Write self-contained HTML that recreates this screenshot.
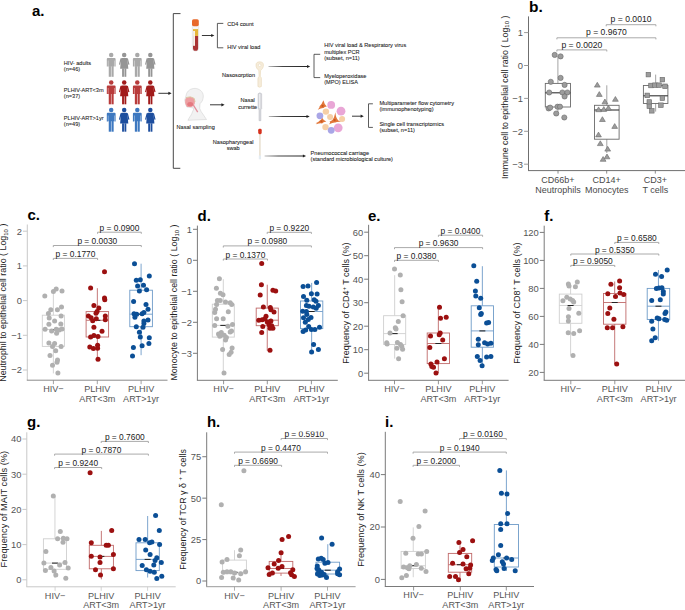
<!DOCTYPE html><html><head><meta charset="utf-8"><style>html,body{margin:0;padding:0;background:#fff;}svg{display:block;} .pa text{stroke:#1a1a1a;stroke-width:0.08px;}</style></head><body>
<svg width="685" height="610" viewBox="0 0 685 610" font-family='"Liberation Sans", sans-serif'>
<defs><linearGradient id="ag" x1="0" x2="1" y1="0" y2="0"><stop offset="0" stop-color="#bbb"/><stop offset="0.35" stop-color="#444"/><stop offset="1" stop-color="#222"/></linearGradient></defs>
<rect width="685" height="610" fill="#fff"/>
<g class="pa">
<text x="31.90" y="15.90" font-size="15" text-anchor="start" fill="#000" font-weight="bold" style="stroke:none">a.</text>
<text x="63.80" y="64.90" font-size="5.6" text-anchor="start" fill="#222" font-weight="normal" >HIV- adults</text>
<text x="63.80" y="70.50" font-size="5.6" text-anchor="start" fill="#222" font-weight="normal" >(n=46)</text>
<text x="63.80" y="91.60" font-size="5.6" text-anchor="start" fill="#222" font-weight="normal" >PLHIV-ART&lt;3m</text>
<text x="63.80" y="97.90" font-size="5.6" text-anchor="start" fill="#222" font-weight="normal" >(n=37)</text>
<text x="63.80" y="119.60" font-size="5.6" text-anchor="start" fill="#222" font-weight="normal" >PLHIV-ART&gt;1yr</text>
<text x="63.80" y="126.30" font-size="5.6" text-anchor="start" fill="#222" font-weight="normal" >(n=49)</text>
<circle cx="111.20" cy="55.10" r="2.25" fill="#a9a9a9"/>
<path d="M106.80,66.50 V58.90 Q106.80,57.90 107.80,57.90 H114.60 Q115.60,57.90 115.60,58.90 V66.50 H114.50 V60.50 H114.15 V66.40 H108.25 V60.50 H107.90 V66.50 Z" fill="#a9a9a9"/>
<rect x="108.75" y="66.10" width="2.2" height="10.7" fill="#a9a9a9"/>
<rect x="111.45" y="66.10" width="2.2" height="10.7" fill="#a9a9a9"/>
<circle cx="124.20" cy="55.10" r="2.25" fill="#959595"/>
<path d="M121.90,57.90 H126.50 Q127.30,57.90 127.40,58.90 L128.30,68.70 H120.10 L121.00,58.90 Q121.10,57.90 121.90,57.90 Z" fill="#959595"/>
<path d="M121.10,58.50 L119.50,64.70 M127.30,58.50 L128.90,64.70" stroke="#959595" stroke-width="1.2" fill="none"/>
<rect x="122.10" y="68.40" width="1.85" height="8.4" fill="#959595"/>
<rect x="124.45" y="68.40" width="1.85" height="8.4" fill="#959595"/>
<circle cx="137.30" cy="55.10" r="2.25" fill="#a9a9a9"/>
<path d="M132.90,66.50 V58.90 Q132.90,57.90 133.90,57.90 H140.70 Q141.70,57.90 141.70,58.90 V66.50 H140.60 V60.50 H140.25 V66.40 H134.35 V60.50 H134.00 V66.50 Z" fill="#a9a9a9"/>
<rect x="134.85" y="66.10" width="2.2" height="10.7" fill="#a9a9a9"/>
<rect x="137.55" y="66.10" width="2.2" height="10.7" fill="#a9a9a9"/>
<circle cx="150.30" cy="55.10" r="2.25" fill="#959595"/>
<path d="M148.00,57.90 H152.60 Q153.40,57.90 153.50,58.90 L154.40,68.70 H146.20 L147.10,58.90 Q147.20,57.90 148.00,57.90 Z" fill="#959595"/>
<path d="M147.20,58.50 L145.60,64.70 M153.40,58.50 L155.00,64.70" stroke="#959595" stroke-width="1.2" fill="none"/>
<rect x="148.20" y="68.40" width="1.85" height="8.4" fill="#959595"/>
<rect x="150.55" y="68.40" width="1.85" height="8.4" fill="#959595"/>
<circle cx="111.20" cy="82.60" r="2.25" fill="#b83b3b"/>
<path d="M106.80,94.00 V86.40 Q106.80,85.40 107.80,85.40 H114.60 Q115.60,85.40 115.60,86.40 V94.00 H114.50 V88.00 H114.15 V93.90 H108.25 V88.00 H107.90 V94.00 Z" fill="#b83b3b"/>
<rect x="108.75" y="93.60" width="2.2" height="10.7" fill="#b83b3b"/>
<rect x="111.45" y="93.60" width="2.2" height="10.7" fill="#b83b3b"/>
<circle cx="124.20" cy="82.60" r="2.25" fill="#a11b1b"/>
<path d="M121.90,85.40 H126.50 Q127.30,85.40 127.40,86.40 L128.30,96.20 H120.10 L121.00,86.40 Q121.10,85.40 121.90,85.40 Z" fill="#a11b1b"/>
<path d="M121.10,86.00 L119.50,92.20 M127.30,86.00 L128.90,92.20" stroke="#a11b1b" stroke-width="1.2" fill="none"/>
<rect x="122.10" y="95.90" width="1.85" height="8.4" fill="#a11b1b"/>
<rect x="124.45" y="95.90" width="1.85" height="8.4" fill="#a11b1b"/>
<circle cx="137.30" cy="82.60" r="2.25" fill="#b83b3b"/>
<path d="M132.90,94.00 V86.40 Q132.90,85.40 133.90,85.40 H140.70 Q141.70,85.40 141.70,86.40 V94.00 H140.60 V88.00 H140.25 V93.90 H134.35 V88.00 H134.00 V94.00 Z" fill="#b83b3b"/>
<rect x="134.85" y="93.60" width="2.2" height="10.7" fill="#b83b3b"/>
<rect x="137.55" y="93.60" width="2.2" height="10.7" fill="#b83b3b"/>
<circle cx="150.30" cy="82.60" r="2.25" fill="#a11b1b"/>
<path d="M148.00,85.40 H152.60 Q153.40,85.40 153.50,86.40 L154.40,96.20 H146.20 L147.10,86.40 Q147.20,85.40 148.00,85.40 Z" fill="#a11b1b"/>
<path d="M147.20,86.00 L145.60,92.20 M153.40,86.00 L155.00,92.20" stroke="#a11b1b" stroke-width="1.2" fill="none"/>
<rect x="148.20" y="95.90" width="1.85" height="8.4" fill="#a11b1b"/>
<rect x="150.55" y="95.90" width="1.85" height="8.4" fill="#a11b1b"/>
<circle cx="111.20" cy="110.00" r="2.25" fill="#3d78c0"/>
<path d="M106.80,121.40 V113.80 Q106.80,112.80 107.80,112.80 H114.60 Q115.60,112.80 115.60,113.80 V121.40 H114.50 V115.40 H114.15 V121.30 H108.25 V115.40 H107.90 V121.40 Z" fill="#3d78c0"/>
<rect x="108.75" y="121.00" width="2.2" height="10.7" fill="#3d78c0"/>
<rect x="111.45" y="121.00" width="2.2" height="10.7" fill="#3d78c0"/>
<circle cx="124.20" cy="110.00" r="2.25" fill="#1d4e9e"/>
<path d="M121.90,112.80 H126.50 Q127.30,112.80 127.40,113.80 L128.30,123.60 H120.10 L121.00,113.80 Q121.10,112.80 121.90,112.80 Z" fill="#1d4e9e"/>
<path d="M121.10,113.40 L119.50,119.60 M127.30,113.40 L128.90,119.60" stroke="#1d4e9e" stroke-width="1.2" fill="none"/>
<rect x="122.10" y="123.30" width="1.85" height="8.4" fill="#1d4e9e"/>
<rect x="124.45" y="123.30" width="1.85" height="8.4" fill="#1d4e9e"/>
<circle cx="137.30" cy="110.00" r="2.25" fill="#3d78c0"/>
<path d="M132.90,121.40 V113.80 Q132.90,112.80 133.90,112.80 H140.70 Q141.70,112.80 141.70,113.80 V121.40 H140.60 V115.40 H140.25 V121.30 H134.35 V115.40 H134.00 V121.40 Z" fill="#3d78c0"/>
<rect x="134.85" y="121.00" width="2.2" height="10.7" fill="#3d78c0"/>
<rect x="137.55" y="121.00" width="2.2" height="10.7" fill="#3d78c0"/>
<circle cx="150.30" cy="110.00" r="2.25" fill="#1d4e9e"/>
<path d="M148.00,112.80 H152.60 Q153.40,112.80 153.50,113.80 L154.40,123.60 H146.20 L147.10,113.80 Q147.20,112.80 148.00,112.80 Z" fill="#1d4e9e"/>
<path d="M147.20,113.40 L145.60,119.60 M153.40,113.40 L155.00,119.60" stroke="#1d4e9e" stroke-width="1.2" fill="none"/>
<rect x="148.20" y="123.30" width="1.85" height="8.4" fill="#1d4e9e"/>
<rect x="150.55" y="123.30" width="1.85" height="8.4" fill="#1d4e9e"/>
<line x1="158.40" y1="93.30" x2="169.60" y2="93.30" stroke="#222" stroke-width="0.9"/>
<path d="M171.60,93.30 L168.40,91.70 L168.40,94.90 Z" fill="#222"/>
<path d="M180.5,13.6 H173.3 V168.3 H180.3" fill="none" stroke="#333" stroke-width="0.9"/>
<rect x="192.3" y="23.5" width="6.4" height="27.6" rx="3" fill="#f6f6f6" stroke="#d0d0d0" stroke-width="0.4"/>
<rect x="193" y="29.1" width="5.1" height="7.2" fill="#e6b63a"/>
<path d="M193,36 H198.1 V48.2 A2.55,2.55 0 0 1 193,48.2 Z" fill="#a93434"/>
<rect x="193.1" y="31" width="1.9" height="14.8" fill="#f5f2ea"/>
<rect x="192" y="19.3" width="6.8" height="6.9" rx="1.6" fill="#e8682a"/>
<line x1="201.90" y1="35.50" x2="212.40" y2="35.50" stroke="#222" stroke-width="0.9"/>
<path d="M214.40,35.50 L211.20,33.90 L211.20,37.10 Z" fill="#222"/>
<path d="M223.3,23.4 H217.4 V47.8 H223.3" fill="none" stroke="#333" stroke-width="0.8"/>
<text x="227.20" y="26.10" font-size="5.6" text-anchor="start" fill="#222" font-weight="normal" >CD4 count</text>
<text x="227.20" y="49.20" font-size="5.6" text-anchor="start" fill="#222" font-weight="normal" >HIV viral load</text>
<path d="M195,88.4 C199,88.4 203.3,91.5 203.3,96 C203.3,99 202.5,101.5 200,103.7 L199.7,108.4 C200.5,111 202,113 203.5,115 L206.5,119.5 L187.9,120.3 C189.5,117 191,115.5 191.7,113.8 L193.5,109.5 L193.2,107.9 L186.7,107 L185.5,103.7 L184.7,100.2 L186.4,94.3 C187.2,91 190.5,88.4 195,88.4 Z" fill="#f2f2f2" stroke="#c8c8c8" stroke-width="0.45"/>
<path d="M185.2,99.8 Q186.2,96.8 190.5,97.1 Q194.6,97.6 194.9,101.5 Q195.1,105.8 191.2,107 L187.2,107.1 Q185.6,105.2 185.2,103 Z" fill="#ee9fa2"/>
<path d="M186,97.6 Q190.5,95.6 194.3,98.4 L195,102" fill="none" stroke="#d9c6a0" stroke-width="0.9"/>
<ellipse cx="190.2" cy="104.2" rx="2.9" ry="2.1" fill="#e47a80"/>
<path d="M193.4,105.2 L197.7,112.2" stroke="#e2909c" stroke-width="1.3"/>
<text x="195.70" y="129.10" font-size="5.6" text-anchor="middle" fill="#222" font-weight="normal" >Nasal sampling</text>
<line x1="210.00" y1="104.80" x2="222.60" y2="104.80" stroke="#222" stroke-width="0.9"/>
<path d="M224.60,104.80 L221.40,103.20 L221.40,106.40 Z" fill="#222"/>
<text x="255.00" y="77.40" font-size="5.6" text-anchor="end" fill="#222" font-weight="normal" >Nasosorption</text>
<path d="M259.7,61.8 C262.3,61.8 263.6,63.2 263.4,65 C263.6,67.5 262,69.3 260.6,70.5 L260.3,76.5 C261.2,77 261.4,77.8 261.4,78.5 L261.4,86.5 Q259.6,88 257.9,86.5 L257.9,78.5 C257.9,77.8 258.2,77 259.1,76.5 L258.8,70.5 C257.4,69.3 255.8,67.5 256,65 C255.8,63.2 257.1,61.8 259.7,61.8 Z" fill="#f6ecda" stroke="#e4d2ae" stroke-width="0.5"/>
<circle cx="259.7" cy="65.2" r="1.3" fill="#fff" stroke="#e0cca4" stroke-width="0.4"/>
<text x="247.70" y="101.90" font-size="5.6" text-anchor="middle" fill="#222" font-weight="normal" >Nasal</text>
<text x="247.70" y="108.50" font-size="5.6" text-anchor="middle" fill="#222" font-weight="normal" >currette</text>
<path d="M258.1,93.8 Q259.9,91.8 261.7,93.8 V108.8 L260.9,109.6 V120.7 H259 V109.6 L258.1,108.8 Z" fill="#d9dade" stroke="#b4b6bd" stroke-width="0.45"/>
<rect x="259.2" y="94" width="0.9" height="14" fill="#f2f2f4"/>
<text x="233.20" y="143.50" font-size="5.6" text-anchor="middle" fill="#222" font-weight="normal" >Nasopharyngeal</text>
<text x="233.20" y="150.30" font-size="5.6" text-anchor="middle" fill="#222" font-weight="normal" >swab</text>
<rect x="259" y="134" width="1.8" height="22" fill="#ece4d6"/>
<rect x="258.8" y="155.5" width="2.2" height="3.8" fill="#e4ecf2"/>
<rect x="258.2" y="128.8" width="3.5" height="5.4" rx="1.4" fill="#d6311d"/>
<rect x="268.50" y="66.00" width="39.70" height="1" fill="url(#ag)"/>
<path d="M310.20,66.50 L307.00,64.90 L307.00,68.10 Z" fill="#222"/>
<rect x="268.80" y="116.00" width="38.90" height="1" fill="url(#ag)"/>
<path d="M309.70,116.50 L306.50,114.90 L306.50,118.10 Z" fill="#222"/>
<rect x="264.60" y="155.50" width="39.50" height="1" fill="url(#ag)"/>
<path d="M306.10,156.00 L302.90,154.40 L302.90,157.60 Z" fill="#222"/>
<path d="M320.2,54.3 H314 V77.6 H320.2" fill="none" stroke="#333" stroke-width="0.8"/>
<text x="324.20" y="47.40" font-size="5.6" text-anchor="start" fill="#222" font-weight="normal" >HIV viral load &amp; Respiratory virus</text>
<text x="324.20" y="53.50" font-size="5.6" text-anchor="start" fill="#222" font-weight="normal" >multiplex PCR</text>
<text x="324.20" y="59.70" font-size="5.6" text-anchor="start" fill="#222" font-weight="normal" >(subset, n=11)</text>
<text x="324.20" y="77.70" font-size="5.6" text-anchor="start" fill="#222" font-weight="normal" >Myeloperoxidase</text>
<text x="324.20" y="83.90" font-size="5.6" text-anchor="start" fill="#222" font-weight="normal" >(MPO) ELISA</text>
<circle cx="331.2" cy="104.9" r="3.9" fill="#e9a6d6"/>
<circle cx="341" cy="111.2" r="4.4" fill="#e9a6d6"/>
<circle cx="338.2" cy="127.8" r="4.4" fill="#e9a6d6"/>
<circle cx="325.9" cy="111.6" r="3.2" fill="#f6cfa6"/>
<circle cx="330.1" cy="116.9" r="3.0" fill="#f6cfa6"/>
<circle cx="342.1" cy="119" r="3.0" fill="#f6cfa6"/>
<circle cx="325.5" cy="127.1" r="3.2" fill="#f6cfa6"/>
<circle cx="319.9" cy="115.8" r="3.4" fill="#a9a6e6"/>
<circle cx="331.2" cy="130.3" r="3.4" fill="#a9a6e6"/>
<path d="M323.40,100.30 Q324.20,104.23 326.80,106.40 Q324.26,106.70 323.60,108.00 Q321.38,107.78 317.80,109.80 Q320.10,107.24 319.60,106.30 Q321.90,104.20 323.40,100.30 Z" fill="#e2773a"/>
<circle cx="322.60" cy="105.80" r="1.1" fill="#c9571e"/>
<path d="M322.30,118.10 Q323.29,120.37 326.30,121.60 Q323.20,122.10 322.00,123.50 Q320.00,122.96 316.30,124.30 Q317.92,122.87 315.50,123.20 Q318.94,121.72 319.50,120.70 Q321.12,120.08 322.30,118.10 Z" fill="#e2773a"/>
<circle cx="321.50" cy="121.30" r="1.1" fill="#c9571e"/>
<path d="M335.40,112.30 Q335.75,117.35 337.40,119.20 Q337.54,120.39 341.00,121.80 Q336.90,121.48 335.40,122.60 Q332.97,122.38 328.70,124.60 Q331.05,122.12 329.40,121.80 Q332.36,120.52 332.80,119.60 Q334.28,117.48 335.40,112.30 Z" fill="#e2773a"/>
<circle cx="334.60" cy="120.20" r="1.1" fill="#c9571e"/>
<line x1="352.00" y1="116.20" x2="361.80" y2="116.20" stroke="#222" stroke-width="0.9"/>
<path d="M363.80,116.20 L360.60,114.60 L360.60,117.80 Z" fill="#222"/>
<path d="M372.9,103.8 H368.5 V127.4 H372.9" fill="none" stroke="#333" stroke-width="0.8"/>
<text x="379.40" y="104.60" font-size="5.6" text-anchor="start" fill="#222" font-weight="normal" >Multiparameter flow cytometry</text>
<text x="379.40" y="111.10" font-size="5.6" text-anchor="start" fill="#222" font-weight="normal" >(immunophenotyping)</text>
<text x="379.40" y="126.00" font-size="5.6" text-anchor="start" fill="#222" font-weight="normal" >Single cell transcriptomics</text>
<text x="379.40" y="131.90" font-size="5.6" text-anchor="start" fill="#222" font-weight="normal" >(subset, n=11)</text>
<text x="310.60" y="155.20" font-size="5.6" text-anchor="start" fill="#222" font-weight="normal" >Pneumococcal carriage</text>
<text x="310.60" y="161.30" font-size="5.6" text-anchor="start" fill="#222" font-weight="normal" >(standard microbiological culture)</text>
</g>
<text x="529.00" y="12.20" font-size="15.5" text-anchor="start" fill="#000" font-weight="bold" >b.</text>
<line x1="528.50" y1="16.40" x2="528.50" y2="170.60" stroke="#6f6f6f" stroke-width="1" />
<line x1="528.00" y1="170.60" x2="685.00" y2="170.60" stroke="#6f6f6f" stroke-width="1" />
<line x1="524.10" y1="32.60" x2="528.50" y2="32.60" stroke="#9a9a9a" stroke-width="1" />
<text x="522.90" y="35.95" font-size="9.4" text-anchor="end" fill="#555" font-weight="normal" >1</text>
<line x1="524.10" y1="65.50" x2="528.50" y2="65.50" stroke="#9a9a9a" stroke-width="1" />
<text x="522.90" y="68.85" font-size="9.4" text-anchor="end" fill="#555" font-weight="normal" >0</text>
<line x1="524.10" y1="98.40" x2="528.50" y2="98.40" stroke="#9a9a9a" stroke-width="1" />
<text x="522.90" y="101.75" font-size="9.4" text-anchor="end" fill="#555" font-weight="normal" >−1</text>
<line x1="524.10" y1="131.30" x2="528.50" y2="131.30" stroke="#9a9a9a" stroke-width="1" />
<text x="522.90" y="134.65" font-size="9.4" text-anchor="end" fill="#555" font-weight="normal" >−2</text>
<line x1="524.10" y1="164.20" x2="528.50" y2="164.20" stroke="#9a9a9a" stroke-width="1" />
<text x="522.90" y="167.55" font-size="9.4" text-anchor="end" fill="#555" font-weight="normal" >−3</text>
<line x1="558.00" y1="170.60" x2="558.00" y2="173.60" stroke="#6f6f6f" stroke-width="0.8" />
<text x="558.00" y="182.50" font-size="9" text-anchor="middle" fill="#4a4a4a" font-weight="normal" >CD66b+</text>
<text x="558.00" y="192.60" font-size="9" text-anchor="middle" fill="#4a4a4a" font-weight="normal" >Neutrophils</text>
<line x1="606.70" y1="170.60" x2="606.70" y2="173.60" stroke="#6f6f6f" stroke-width="0.8" />
<text x="606.70" y="182.50" font-size="9" text-anchor="middle" fill="#4a4a4a" font-weight="normal" >CD14+</text>
<text x="606.70" y="192.60" font-size="9" text-anchor="middle" fill="#4a4a4a" font-weight="normal" >Monocytes</text>
<line x1="655.30" y1="170.60" x2="655.30" y2="173.60" stroke="#6f6f6f" stroke-width="0.8" />
<text x="655.30" y="182.50" font-size="9" text-anchor="middle" fill="#4a4a4a" font-weight="normal" >CD3+</text>
<text x="655.30" y="192.60" font-size="9" text-anchor="middle" fill="#4a4a4a" font-weight="normal" >T cells</text>
<text x="0" y="0" font-size="8.75" text-anchor="middle" fill="#222" transform="translate(507.8,97.3) rotate(-90)">Immune cell to epithelial cell ratio ( Log<tspan font-size="6" dy="1.5">10</tspan><tspan dy="-1.5"> )</tspan></text>
<path d="M606.20,26.30 V24.70 H655.90 V26.30" fill="none" stroke="#a0a0a0" stroke-width="0.9"/>
<text x="631.05" y="22.30" font-size="8.6" text-anchor="middle" fill="#222" font-weight="normal" >p = 0.0010</text>
<path d="M556.90,39.40 V37.80 H655.90 V39.40" fill="none" stroke="#a0a0a0" stroke-width="0.9"/>
<text x="606.40" y="35.40" font-size="8.6" text-anchor="middle" fill="#222" font-weight="normal" >p = 0.9670</text>
<path d="M556.90,51.50 V49.90 H606.80 V51.50" fill="none" stroke="#a0a0a0" stroke-width="0.9"/>
<text x="581.85" y="47.50" font-size="8.6" text-anchor="middle" fill="#222" font-weight="normal" >p = 0.0020</text>
<line x1="557.90" y1="56.00" x2="557.90" y2="83.40" stroke="#9a9a9a" stroke-width="0.9" />
<line x1="557.90" y1="107.00" x2="557.90" y2="115.60" stroke="#9a9a9a" stroke-width="0.9" />
<rect x="545.30" y="83.40" width="25.20" height="23.60" fill="none" stroke="#6a6a6a" stroke-width="0.9"/>
<line x1="545.30" y1="92.80" x2="570.50" y2="92.80" stroke="#333" stroke-width="1.1" />
<line x1="606.80" y1="85.30" x2="606.80" y2="105.30" stroke="#9a9a9a" stroke-width="0.9" />
<line x1="606.80" y1="139.20" x2="606.80" y2="153.00" stroke="#9a9a9a" stroke-width="0.9" />
<rect x="594.50" y="105.30" width="24.60" height="33.90" fill="none" stroke="#6a6a6a" stroke-width="0.9"/>
<line x1="594.50" y1="110.00" x2="619.10" y2="110.00" stroke="#333" stroke-width="1.1" />
<line x1="655.65" y1="74.60" x2="655.65" y2="85.50" stroke="#9a9a9a" stroke-width="0.9" />
<line x1="655.65" y1="103.50" x2="655.65" y2="111.60" stroke="#9a9a9a" stroke-width="0.9" />
<rect x="643.40" y="85.50" width="24.50" height="18.00" fill="none" stroke="#6a6a6a" stroke-width="0.9"/>
<line x1="643.40" y1="95.80" x2="667.90" y2="95.80" stroke="#333" stroke-width="1.1" />
<circle cx="554.7" cy="54.9" r="2.6" fill="#9c9c9c" stroke="#6a6a6a" stroke-width="0.6"/>
<circle cx="560.6" cy="56.4" r="2.6" fill="#9c9c9c" stroke="#6a6a6a" stroke-width="0.6"/>
<circle cx="560.6" cy="77.9" r="2.6" fill="#9c9c9c" stroke="#6a6a6a" stroke-width="0.6"/>
<circle cx="550.8" cy="81.8" r="2.6" fill="#9c9c9c" stroke="#6a6a6a" stroke-width="0.6"/>
<circle cx="564.6" cy="84.9" r="2.6" fill="#9c9c9c" stroke="#6a6a6a" stroke-width="0.6"/>
<circle cx="549.2" cy="92.5" r="2.6" fill="#9c9c9c" stroke="#6a6a6a" stroke-width="0.6"/>
<circle cx="562.4" cy="92.5" r="2.6" fill="#9c9c9c" stroke="#6a6a6a" stroke-width="0.6"/>
<circle cx="567.4" cy="92.5" r="2.6" fill="#9c9c9c" stroke="#6a6a6a" stroke-width="0.6"/>
<circle cx="564.6" cy="96.5" r="2.6" fill="#9c9c9c" stroke="#6a6a6a" stroke-width="0.6"/>
<circle cx="548.6" cy="108.4" r="2.6" fill="#9c9c9c" stroke="#6a6a6a" stroke-width="0.6"/>
<circle cx="550.2" cy="107.6" r="2.6" fill="#9c9c9c" stroke="#6a6a6a" stroke-width="0.6"/>
<circle cx="557.5" cy="106.7" r="2.6" fill="#9c9c9c" stroke="#6a6a6a" stroke-width="0.6"/>
<circle cx="560" cy="106.7" r="2.6" fill="#9c9c9c" stroke="#6a6a6a" stroke-width="0.6"/>
<circle cx="556.2" cy="113.5" r="2.6" fill="#9c9c9c" stroke="#6a6a6a" stroke-width="0.6"/>
<circle cx="564.3" cy="117.5" r="2.6" fill="#9c9c9c" stroke="#6a6a6a" stroke-width="0.6"/>
<path d="M597.30,82.30 L600.20,87.10 L594.40,87.10 Z" fill="#9c9c9c" stroke="#6a6a6a" stroke-width="0.6"/>
<path d="M599.30,91.60 L602.20,96.40 L596.40,96.40 Z" fill="#9c9c9c" stroke="#6a6a6a" stroke-width="0.6"/>
<path d="M604.90,99.00 L607.80,103.80 L602.00,103.80 Z" fill="#9c9c9c" stroke="#6a6a6a" stroke-width="0.6"/>
<path d="M615.40,96.50 L618.30,101.30 L612.50,101.30 Z" fill="#9c9c9c" stroke="#6a6a6a" stroke-width="0.6"/>
<path d="M598.60,106.90 L601.50,111.70 L595.70,111.70 Z" fill="#9c9c9c" stroke="#6a6a6a" stroke-width="0.6"/>
<path d="M603.80,106.60 L606.70,111.40 L600.90,111.40 Z" fill="#9c9c9c" stroke="#6a6a6a" stroke-width="0.6"/>
<path d="M608.40,105.30 L611.30,110.10 L605.50,110.10 Z" fill="#9c9c9c" stroke="#6a6a6a" stroke-width="0.6"/>
<path d="M602.40,116.70 L605.30,121.50 L599.50,121.50 Z" fill="#9c9c9c" stroke="#6a6a6a" stroke-width="0.6"/>
<path d="M614.70,123.60 L617.60,128.40 L611.80,128.40 Z" fill="#9c9c9c" stroke="#6a6a6a" stroke-width="0.6"/>
<path d="M598.50,132.10 L601.40,136.90 L595.60,136.90 Z" fill="#9c9c9c" stroke="#6a6a6a" stroke-width="0.6"/>
<path d="M600.30,140.80 L603.20,145.60 L597.40,145.60 Z" fill="#9c9c9c" stroke="#6a6a6a" stroke-width="0.6"/>
<path d="M607.70,146.30 L610.60,151.10 L604.80,151.10 Z" fill="#9c9c9c" stroke="#6a6a6a" stroke-width="0.6"/>
<path d="M607.00,154.00 L609.90,158.80 L604.10,158.80 Z" fill="#9c9c9c" stroke="#6a6a6a" stroke-width="0.6"/>
<path d="M603.10,156.50 L606.00,161.30 L600.20,161.30 Z" fill="#9c9c9c" stroke="#6a6a6a" stroke-width="0.6"/>
<rect x="646.10" y="72.30" width="4.6" height="4.6" fill="#9c9c9c" stroke="#6a6a6a" stroke-width="0.6"/>
<rect x="660.10" y="77.30" width="4.6" height="4.6" fill="#9c9c9c" stroke="#6a6a6a" stroke-width="0.6"/>
<rect x="648.70" y="83.20" width="4.6" height="4.6" fill="#9c9c9c" stroke="#6a6a6a" stroke-width="0.6"/>
<rect x="652.70" y="82.90" width="4.6" height="4.6" fill="#9c9c9c" stroke="#6a6a6a" stroke-width="0.6"/>
<rect x="656.70" y="82.90" width="4.6" height="4.6" fill="#9c9c9c" stroke="#6a6a6a" stroke-width="0.6"/>
<rect x="662.70" y="84.00" width="4.6" height="4.6" fill="#9c9c9c" stroke="#6a6a6a" stroke-width="0.6"/>
<rect x="645.00" y="93.10" width="4.6" height="4.6" fill="#9c9c9c" stroke="#6a6a6a" stroke-width="0.6"/>
<rect x="660.10" y="95.90" width="4.6" height="4.6" fill="#9c9c9c" stroke="#6a6a6a" stroke-width="0.6"/>
<rect x="647.00" y="99.70" width="4.6" height="4.6" fill="#9c9c9c" stroke="#6a6a6a" stroke-width="0.6"/>
<rect x="658.60" y="102.90" width="4.6" height="4.6" fill="#9c9c9c" stroke="#6a6a6a" stroke-width="0.6"/>
<rect x="647.00" y="104.00" width="4.6" height="4.6" fill="#9c9c9c" stroke="#6a6a6a" stroke-width="0.6"/>
<rect x="649.50" y="108.50" width="4.6" height="4.6" fill="#9c9c9c" stroke="#6a6a6a" stroke-width="0.6"/>
<text x="27.40" y="220.30" font-size="15" text-anchor="start" fill="#000" font-weight="bold" >c.</text>
<line x1="27.30" y1="224.50" x2="27.30" y2="380.20" stroke="#c8c8c8" stroke-width="1" />
<line x1="26.80" y1="380.20" x2="167.50" y2="380.20" stroke="#8a8a8a" stroke-width="1" />
<line x1="22.90" y1="231.20" x2="27.30" y2="231.20" stroke="#c8c8c8" stroke-width="1" />
<text x="21.90" y="234.55" font-size="9.4" text-anchor="end" fill="#555" font-weight="normal" >2</text>
<line x1="22.90" y1="265.90" x2="27.30" y2="265.90" stroke="#c8c8c8" stroke-width="1" />
<text x="21.90" y="269.25" font-size="9.4" text-anchor="end" fill="#555" font-weight="normal" >1</text>
<line x1="22.90" y1="300.60" x2="27.30" y2="300.60" stroke="#c8c8c8" stroke-width="1" />
<text x="21.90" y="303.95" font-size="9.4" text-anchor="end" fill="#555" font-weight="normal" >0</text>
<line x1="22.90" y1="335.30" x2="27.30" y2="335.30" stroke="#c8c8c8" stroke-width="1" />
<text x="21.90" y="338.65" font-size="9.4" text-anchor="end" fill="#555" font-weight="normal" >−1</text>
<line x1="22.90" y1="370.00" x2="27.30" y2="370.00" stroke="#c8c8c8" stroke-width="1" />
<text x="21.90" y="373.35" font-size="9.4" text-anchor="end" fill="#555" font-weight="normal" >−2</text>
<line x1="53.40" y1="380.20" x2="53.40" y2="384.20" stroke="#8a8a8a" stroke-width="0.8" />
<text x="53.40" y="392.00" font-size="9.1" text-anchor="middle" fill="#555" font-weight="normal" >HIV−</text>
<line x1="97.30" y1="380.20" x2="97.30" y2="384.20" stroke="#8a8a8a" stroke-width="0.8" />
<text x="97.30" y="392.00" font-size="9.1" text-anchor="middle" fill="#555" font-weight="normal" >PLHIV</text>
<text x="97.30" y="401.70" font-size="9.1" text-anchor="middle" fill="#555" font-weight="normal" >ART&lt;3m</text>
<line x1="141.10" y1="380.20" x2="141.10" y2="384.20" stroke="#8a8a8a" stroke-width="0.8" />
<text x="141.10" y="392.00" font-size="9.1" text-anchor="middle" fill="#555" font-weight="normal" >PLHIV</text>
<text x="141.10" y="401.70" font-size="9.1" text-anchor="middle" fill="#555" font-weight="normal" >ART&gt;1yr</text>
<text x="0" y="0" font-size="8.9" text-anchor="middle" fill="#222" transform="translate(6.20,302.70) rotate(-90)">Neutrophil to epithelial cell ratio ( Log<tspan font-size="6" dy="1.5">10</tspan><tspan dy="-1.5"> )</tspan></text>
<clipPath id="cp27"><rect x="0" y="223.70" width="685" height="385.50"/></clipPath>
<g clip-path="url(#cp27)">
<path d="M97.60,233.80 V232.20 H141.30 V233.80" fill="none" stroke="#a0a0a0" stroke-width="0.9"/>
<text x="119.45" y="230.70" font-size="8.4" text-anchor="middle" fill="#222" font-weight="normal" >p = 0.0900</text>
<path d="M53.30,247.10 V245.50 H141.30 V247.10" fill="none" stroke="#a0a0a0" stroke-width="0.9"/>
<text x="97.30" y="244.00" font-size="8.4" text-anchor="middle" fill="#222" font-weight="normal" >p = 0.0030</text>
<path d="M53.30,260.00 V258.40 H97.60 V260.00" fill="none" stroke="#a0a0a0" stroke-width="0.9"/>
<text x="75.45" y="256.90" font-size="8.4" text-anchor="middle" fill="#222" font-weight="normal" >p = 0.1770</text>
</g>
<line x1="53.35" y1="291.50" x2="53.35" y2="315.20" stroke="#cfcfcf" stroke-width="0.9" />
<line x1="53.35" y1="346.40" x2="53.35" y2="373.40" stroke="#cfcfcf" stroke-width="0.9" />
<rect x="42.30" y="315.20" width="22.10" height="31.20" fill="none" stroke="#cfcfcf" stroke-width="0.9"/>
<line x1="42.30" y1="329.50" x2="64.40" y2="329.50" stroke="#cfcfcf" stroke-width="0.9" />
<line x1="50.35" y1="329.50" x2="56.35" y2="329.50" stroke="#222" stroke-width="1.05" />
<line x1="97.35" y1="288.20" x2="97.35" y2="311.60" stroke="#c06a6a" stroke-width="0.9" />
<line x1="97.35" y1="337.00" x2="97.35" y2="359.20" stroke="#c06a6a" stroke-width="0.9" />
<rect x="86.10" y="311.60" width="22.50" height="25.40" fill="none" stroke="#c06a6a" stroke-width="0.9"/>
<line x1="86.10" y1="320.30" x2="108.60" y2="320.30" stroke="#c06a6a" stroke-width="0.9" />
<line x1="94.35" y1="320.30" x2="100.35" y2="320.30" stroke="#222" stroke-width="1.05" />
<line x1="141.10" y1="263.70" x2="141.10" y2="290.20" stroke="#6e9bc8" stroke-width="0.9" />
<line x1="141.10" y1="326.70" x2="141.10" y2="355.20" stroke="#6e9bc8" stroke-width="0.9" />
<rect x="129.80" y="290.20" width="22.60" height="36.50" fill="none" stroke="#6e9bc8" stroke-width="0.9"/>
<line x1="129.80" y1="314.20" x2="152.40" y2="314.20" stroke="#6e9bc8" stroke-width="0.9" />
<line x1="138.10" y1="314.20" x2="144.10" y2="314.20" stroke="#222" stroke-width="1.05" />
<circle cx="56.20" cy="289.00" r="2.5" fill="#b0b0b0"/>
<circle cx="53.40" cy="291.50" r="2.5" fill="#b0b0b0"/>
<circle cx="62.00" cy="291.10" r="2.5" fill="#b0b0b0"/>
<circle cx="44.80" cy="296.10" r="2.5" fill="#b0b0b0"/>
<circle cx="61.50" cy="307.00" r="2.5" fill="#b0b0b0"/>
<circle cx="57.40" cy="309.80" r="2.5" fill="#b0b0b0"/>
<circle cx="50.80" cy="309.80" r="2.5" fill="#b0b0b0"/>
<circle cx="48.40" cy="313.60" r="2.5" fill="#b0b0b0"/>
<circle cx="61.10" cy="316.10" r="2.5" fill="#b0b0b0"/>
<circle cx="49.20" cy="318.00" r="2.5" fill="#b0b0b0"/>
<circle cx="54.60" cy="321.00" r="2.5" fill="#b0b0b0"/>
<circle cx="48.90" cy="324.30" r="2.5" fill="#b0b0b0"/>
<circle cx="60.80" cy="323.90" r="2.5" fill="#b0b0b0"/>
<circle cx="45.10" cy="329.20" r="2.5" fill="#b0b0b0"/>
<circle cx="51.60" cy="331.10" r="2.5" fill="#b0b0b0"/>
<circle cx="56.20" cy="329.20" r="2.5" fill="#b0b0b0"/>
<circle cx="59.20" cy="330.00" r="2.5" fill="#b0b0b0"/>
<circle cx="62.00" cy="328.90" r="2.5" fill="#b0b0b0"/>
<circle cx="56.60" cy="333.30" r="2.5" fill="#b0b0b0"/>
<circle cx="48.90" cy="343.10" r="2.5" fill="#b0b0b0"/>
<circle cx="54.60" cy="343.60" r="2.5" fill="#b0b0b0"/>
<circle cx="52.50" cy="346.40" r="2.5" fill="#b0b0b0"/>
<circle cx="61.10" cy="346.40" r="2.5" fill="#b0b0b0"/>
<circle cx="55.70" cy="350.80" r="2.5" fill="#b0b0b0"/>
<circle cx="50.00" cy="355.40" r="2.5" fill="#b0b0b0"/>
<circle cx="57.50" cy="360.00" r="2.5" fill="#b0b0b0"/>
<circle cx="57.00" cy="362.30" r="2.5" fill="#b0b0b0"/>
<circle cx="52.50" cy="365.20" r="2.5" fill="#b0b0b0"/>
<circle cx="57.90" cy="373.10" r="2.5" fill="#b0b0b0"/>
<circle cx="104.50" cy="271.80" r="2.5" fill="#9c1010"/>
<circle cx="90.60" cy="287.90" r="2.5" fill="#9c1010"/>
<circle cx="104.50" cy="298.00" r="2.5" fill="#9c1010"/>
<circle cx="104.80" cy="299.80" r="2.5" fill="#9c1010"/>
<circle cx="93.90" cy="305.60" r="2.5" fill="#9c1010"/>
<circle cx="98.80" cy="307.90" r="2.5" fill="#9c1010"/>
<circle cx="97.10" cy="311.60" r="2.5" fill="#9c1010"/>
<circle cx="96.00" cy="313.30" r="2.5" fill="#9c1010"/>
<circle cx="88.40" cy="316.10" r="2.5" fill="#9c1010"/>
<circle cx="91.10" cy="317.70" r="2.5" fill="#9c1010"/>
<circle cx="92.70" cy="320.70" r="2.5" fill="#9c1010"/>
<circle cx="96.30" cy="318.70" r="2.5" fill="#9c1010"/>
<circle cx="105.30" cy="316.10" r="2.5" fill="#9c1010"/>
<circle cx="105.30" cy="319.80" r="2.5" fill="#9c1010"/>
<circle cx="93.90" cy="327.20" r="2.5" fill="#9c1010"/>
<circle cx="102.00" cy="331.30" r="2.5" fill="#9c1010"/>
<circle cx="90.60" cy="337.00" r="2.5" fill="#9c1010"/>
<circle cx="93.90" cy="335.40" r="2.5" fill="#9c1010"/>
<circle cx="98.00" cy="336.60" r="2.5" fill="#9c1010"/>
<circle cx="89.80" cy="346.90" r="2.5" fill="#9c1010"/>
<circle cx="93.40" cy="348.50" r="2.5" fill="#9c1010"/>
<circle cx="97.60" cy="345.20" r="2.5" fill="#9c1010"/>
<circle cx="97.60" cy="348.20" r="2.5" fill="#9c1010"/>
<circle cx="98.00" cy="359.20" r="2.5" fill="#9c1010"/>
<circle cx="134.50" cy="263.70" r="2.5" fill="#0b4f96"/>
<circle cx="149.30" cy="276.10" r="2.5" fill="#0b4f96"/>
<circle cx="136.30" cy="280.30" r="2.5" fill="#0b4f96"/>
<circle cx="140.30" cy="279.70" r="2.5" fill="#0b4f96"/>
<circle cx="137.60" cy="286.00" r="2.5" fill="#0b4f96"/>
<circle cx="143.50" cy="285.30" r="2.5" fill="#0b4f96"/>
<circle cx="139.40" cy="291.10" r="2.5" fill="#0b4f96"/>
<circle cx="146.60" cy="289.70" r="2.5" fill="#0b4f96"/>
<circle cx="133.60" cy="301.60" r="2.5" fill="#0b4f96"/>
<circle cx="146.00" cy="304.60" r="2.5" fill="#0b4f96"/>
<circle cx="148.00" cy="309.20" r="2.5" fill="#0b4f96"/>
<circle cx="134.00" cy="313.70" r="2.5" fill="#0b4f96"/>
<circle cx="136.70" cy="314.20" r="2.5" fill="#0b4f96"/>
<circle cx="134.90" cy="317.30" r="2.5" fill="#0b4f96"/>
<circle cx="142.10" cy="313.70" r="2.5" fill="#0b4f96"/>
<circle cx="143.90" cy="312.40" r="2.5" fill="#0b4f96"/>
<circle cx="148.00" cy="320.00" r="2.5" fill="#0b4f96"/>
<circle cx="143.90" cy="320.90" r="2.5" fill="#0b4f96"/>
<circle cx="143.90" cy="323.60" r="2.5" fill="#0b4f96"/>
<circle cx="136.30" cy="326.70" r="2.5" fill="#0b4f96"/>
<circle cx="143.00" cy="327.20" r="2.5" fill="#0b4f96"/>
<circle cx="139.40" cy="332.30" r="2.5" fill="#0b4f96"/>
<circle cx="140.30" cy="337.10" r="2.5" fill="#0b4f96"/>
<circle cx="149.30" cy="337.70" r="2.5" fill="#0b4f96"/>
<circle cx="148.90" cy="343.40" r="2.5" fill="#0b4f96"/>
<circle cx="142.10" cy="345.80" r="2.5" fill="#0b4f96"/>
<circle cx="133.40" cy="347.40" r="2.5" fill="#0b4f96"/>
<circle cx="132.50" cy="356.10" r="2.5" fill="#0b4f96"/>
<text x="197.60" y="221.20" font-size="15" text-anchor="start" fill="#000" font-weight="bold" >d.</text>
<line x1="197.40" y1="225.60" x2="197.40" y2="380.30" stroke="#7a7a7a" stroke-width="1" />
<line x1="196.90" y1="380.30" x2="337.80" y2="380.30" stroke="#7a7a7a" stroke-width="1" />
<line x1="193.00" y1="229.30" x2="197.40" y2="229.30" stroke="#7a7a7a" stroke-width="1" />
<text x="192.00" y="232.65" font-size="9.4" text-anchor="end" fill="#555" font-weight="normal" >1</text>
<line x1="193.00" y1="260.30" x2="197.40" y2="260.30" stroke="#7a7a7a" stroke-width="1" />
<text x="192.00" y="263.65" font-size="9.4" text-anchor="end" fill="#555" font-weight="normal" >0</text>
<line x1="193.00" y1="291.30" x2="197.40" y2="291.30" stroke="#7a7a7a" stroke-width="1" />
<text x="192.00" y="294.65" font-size="9.4" text-anchor="end" fill="#555" font-weight="normal" >−1</text>
<line x1="193.00" y1="322.30" x2="197.40" y2="322.30" stroke="#7a7a7a" stroke-width="1" />
<text x="192.00" y="325.65" font-size="9.4" text-anchor="end" fill="#555" font-weight="normal" >−2</text>
<line x1="193.00" y1="353.30" x2="197.40" y2="353.30" stroke="#7a7a7a" stroke-width="1" />
<text x="192.00" y="356.65" font-size="9.4" text-anchor="end" fill="#555" font-weight="normal" >−3</text>
<line x1="223.60" y1="380.30" x2="223.60" y2="384.30" stroke="#7a7a7a" stroke-width="0.8" />
<text x="223.60" y="392.10" font-size="9.1" text-anchor="middle" fill="#555" font-weight="normal" >HIV−</text>
<line x1="267.30" y1="380.30" x2="267.30" y2="384.30" stroke="#7a7a7a" stroke-width="0.8" />
<text x="267.30" y="392.10" font-size="9.1" text-anchor="middle" fill="#555" font-weight="normal" >PLHIV</text>
<text x="267.30" y="401.80" font-size="9.1" text-anchor="middle" fill="#555" font-weight="normal" >ART&lt;3m</text>
<line x1="311.40" y1="380.30" x2="311.40" y2="384.30" stroke="#7a7a7a" stroke-width="0.8" />
<text x="311.40" y="392.10" font-size="9.1" text-anchor="middle" fill="#555" font-weight="normal" >PLHIV</text>
<text x="311.40" y="401.80" font-size="9.1" text-anchor="middle" fill="#555" font-weight="normal" >ART&gt;1yr</text>
<text x="0" y="0" font-size="8.9" text-anchor="middle" fill="#222" transform="translate(177.00,302.50) rotate(-90)">Monocyte to epithelial cell ratio ( Log<tspan font-size="6" dy="1.5">10</tspan><tspan dy="-1.5"> )</tspan></text>
<clipPath id="cp197"><rect x="0" y="224.80" width="685" height="384.40"/></clipPath>
<g clip-path="url(#cp197)">
<path d="M267.20,233.90 V232.30 H311.40 V233.90" fill="none" stroke="#a0a0a0" stroke-width="0.9"/>
<text x="289.30" y="230.80" font-size="8.4" text-anchor="middle" fill="#222" font-weight="normal" >p = 0.9220</text>
<path d="M223.30,247.50 V245.90 H311.40 V247.50" fill="none" stroke="#a0a0a0" stroke-width="0.9"/>
<text x="267.35" y="244.40" font-size="8.4" text-anchor="middle" fill="#222" font-weight="normal" >p = 0.0980</text>
<path d="M223.30,260.60 V259.00 H267.50 V260.60" fill="none" stroke="#a0a0a0" stroke-width="0.9"/>
<text x="245.40" y="257.50" font-size="8.4" text-anchor="middle" fill="#222" font-weight="normal" >p = 0.1370</text>
</g>
<line x1="223.30" y1="279.20" x2="223.30" y2="304.20" stroke="#cfcfcf" stroke-width="0.9" />
<line x1="223.30" y1="337.10" x2="223.30" y2="373.50" stroke="#cfcfcf" stroke-width="0.9" />
<rect x="212.30" y="304.20" width="22.00" height="32.90" fill="none" stroke="#cfcfcf" stroke-width="0.9"/>
<line x1="212.30" y1="325.40" x2="234.30" y2="325.40" stroke="#cfcfcf" stroke-width="0.9" />
<line x1="220.30" y1="325.40" x2="226.30" y2="325.40" stroke="#222" stroke-width="1.05" />
<line x1="267.25" y1="284.70" x2="267.25" y2="308.10" stroke="#c06a6a" stroke-width="0.9" />
<line x1="267.25" y1="325.70" x2="267.25" y2="350.70" stroke="#c06a6a" stroke-width="0.9" />
<rect x="256.20" y="308.10" width="22.10" height="17.60" fill="none" stroke="#c06a6a" stroke-width="0.9"/>
<line x1="256.20" y1="320.20" x2="278.30" y2="320.20" stroke="#c06a6a" stroke-width="0.9" />
<line x1="264.25" y1="320.20" x2="270.25" y2="320.20" stroke="#222" stroke-width="1.05" />
<line x1="311.65" y1="282.90" x2="311.65" y2="301.00" stroke="#6e9bc8" stroke-width="0.9" />
<line x1="311.65" y1="328.60" x2="311.65" y2="351.50" stroke="#6e9bc8" stroke-width="0.9" />
<rect x="300.50" y="301.00" width="22.30" height="27.60" fill="none" stroke="#6e9bc8" stroke-width="0.9"/>
<line x1="300.50" y1="311.50" x2="322.80" y2="311.50" stroke="#6e9bc8" stroke-width="0.9" />
<line x1="308.65" y1="311.50" x2="314.65" y2="311.50" stroke="#222" stroke-width="1.05" />
<circle cx="219.40" cy="278.80" r="2.5" fill="#b0b0b0"/>
<circle cx="216.40" cy="288.20" r="2.5" fill="#b0b0b0"/>
<circle cx="220.40" cy="293.30" r="2.5" fill="#b0b0b0"/>
<circle cx="223.00" cy="294.80" r="2.5" fill="#b0b0b0"/>
<circle cx="217.40" cy="300.50" r="2.5" fill="#b0b0b0"/>
<circle cx="220.20" cy="300.50" r="2.5" fill="#b0b0b0"/>
<circle cx="225.50" cy="302.00" r="2.5" fill="#b0b0b0"/>
<circle cx="230.20" cy="302.70" r="2.5" fill="#b0b0b0"/>
<circle cx="231.70" cy="304.60" r="2.5" fill="#b0b0b0"/>
<circle cx="216.60" cy="304.60" r="2.5" fill="#b0b0b0"/>
<circle cx="215.50" cy="309.30" r="2.5" fill="#b0b0b0"/>
<circle cx="214.70" cy="312.50" r="2.5" fill="#b0b0b0"/>
<circle cx="228.30" cy="311.80" r="2.5" fill="#b0b0b0"/>
<circle cx="216.60" cy="318.80" r="2.5" fill="#b0b0b0"/>
<circle cx="223.20" cy="318.80" r="2.5" fill="#b0b0b0"/>
<circle cx="214.70" cy="325.40" r="2.5" fill="#b0b0b0"/>
<circle cx="227.90" cy="326.30" r="2.5" fill="#b0b0b0"/>
<circle cx="232.50" cy="324.40" r="2.5" fill="#b0b0b0"/>
<circle cx="230.20" cy="332.00" r="2.5" fill="#b0b0b0"/>
<circle cx="231.50" cy="331.00" r="2.5" fill="#b0b0b0"/>
<circle cx="218.50" cy="333.90" r="2.5" fill="#b0b0b0"/>
<circle cx="221.30" cy="332.50" r="2.5" fill="#b0b0b0"/>
<circle cx="219.80" cy="336.30" r="2.5" fill="#b0b0b0"/>
<circle cx="224.20" cy="335.20" r="2.5" fill="#b0b0b0"/>
<circle cx="226.40" cy="337.60" r="2.5" fill="#b0b0b0"/>
<circle cx="225.50" cy="340.10" r="2.5" fill="#b0b0b0"/>
<circle cx="222.60" cy="349.50" r="2.5" fill="#b0b0b0"/>
<circle cx="232.10" cy="348.00" r="2.5" fill="#b0b0b0"/>
<circle cx="231.10" cy="352.20" r="2.5" fill="#b0b0b0"/>
<circle cx="229.20" cy="354.60" r="2.5" fill="#b0b0b0"/>
<circle cx="224.00" cy="372.90" r="2.5" fill="#b0b0b0"/>
<circle cx="261.70" cy="263.60" r="2.5" fill="#9c1010"/>
<circle cx="261.40" cy="284.70" r="2.5" fill="#9c1010"/>
<circle cx="272.90" cy="290.30" r="2.5" fill="#9c1010"/>
<circle cx="275.70" cy="290.90" r="2.5" fill="#9c1010"/>
<circle cx="260.20" cy="295.00" r="2.5" fill="#9c1010"/>
<circle cx="263.40" cy="307.10" r="2.5" fill="#9c1010"/>
<circle cx="270.30" cy="307.60" r="2.5" fill="#9c1010"/>
<circle cx="270.90" cy="309.80" r="2.5" fill="#9c1010"/>
<circle cx="274.00" cy="311.90" r="2.5" fill="#9c1010"/>
<circle cx="266.00" cy="316.20" r="2.5" fill="#9c1010"/>
<circle cx="258.80" cy="320.20" r="2.5" fill="#9c1010"/>
<circle cx="262.20" cy="319.70" r="2.5" fill="#9c1010"/>
<circle cx="264.80" cy="319.10" r="2.5" fill="#9c1010"/>
<circle cx="267.40" cy="322.20" r="2.5" fill="#9c1010"/>
<circle cx="270.90" cy="320.90" r="2.5" fill="#9c1010"/>
<circle cx="269.10" cy="324.80" r="2.5" fill="#9c1010"/>
<circle cx="271.70" cy="325.70" r="2.5" fill="#9c1010"/>
<circle cx="270.00" cy="328.30" r="2.5" fill="#9c1010"/>
<circle cx="272.90" cy="328.30" r="2.5" fill="#9c1010"/>
<circle cx="262.80" cy="326.60" r="2.5" fill="#9c1010"/>
<circle cx="261.70" cy="332.60" r="2.5" fill="#9c1010"/>
<circle cx="270.00" cy="350.20" r="2.5" fill="#9c1010"/>
<circle cx="316.60" cy="282.60" r="2.5" fill="#0b4f96"/>
<circle cx="303.10" cy="286.60" r="2.5" fill="#0b4f96"/>
<circle cx="308.00" cy="285.90" r="2.5" fill="#0b4f96"/>
<circle cx="311.40" cy="293.80" r="2.5" fill="#0b4f96"/>
<circle cx="317.10" cy="294.00" r="2.5" fill="#0b4f96"/>
<circle cx="303.50" cy="296.40" r="2.5" fill="#0b4f96"/>
<circle cx="306.80" cy="300.30" r="2.5" fill="#0b4f96"/>
<circle cx="314.20" cy="299.70" r="2.5" fill="#0b4f96"/>
<circle cx="316.00" cy="301.30" r="2.5" fill="#0b4f96"/>
<circle cx="306.40" cy="305.60" r="2.5" fill="#0b4f96"/>
<circle cx="309.00" cy="306.20" r="2.5" fill="#0b4f96"/>
<circle cx="313.30" cy="306.90" r="2.5" fill="#0b4f96"/>
<circle cx="318.40" cy="305.60" r="2.5" fill="#0b4f96"/>
<circle cx="316.20" cy="308.20" r="2.5" fill="#0b4f96"/>
<circle cx="302.70" cy="311.20" r="2.5" fill="#0b4f96"/>
<circle cx="306.40" cy="311.50" r="2.5" fill="#0b4f96"/>
<circle cx="306.80" cy="314.40" r="2.5" fill="#0b4f96"/>
<circle cx="311.00" cy="317.40" r="2.5" fill="#0b4f96"/>
<circle cx="303.50" cy="317.80" r="2.5" fill="#0b4f96"/>
<circle cx="308.30" cy="319.40" r="2.5" fill="#0b4f96"/>
<circle cx="305.30" cy="322.30" r="2.5" fill="#0b4f96"/>
<circle cx="308.70" cy="326.60" r="2.5" fill="#0b4f96"/>
<circle cx="319.50" cy="327.20" r="2.5" fill="#0b4f96"/>
<circle cx="314.90" cy="329.50" r="2.5" fill="#0b4f96"/>
<circle cx="311.40" cy="329.60" r="2.5" fill="#0b4f96"/>
<circle cx="305.70" cy="329.90" r="2.5" fill="#0b4f96"/>
<circle cx="303.10" cy="331.60" r="2.5" fill="#0b4f96"/>
<circle cx="313.60" cy="344.60" r="2.5" fill="#0b4f96"/>
<circle cx="318.40" cy="349.60" r="2.5" fill="#0b4f96"/>
<circle cx="311.60" cy="351.90" r="2.5" fill="#0b4f96"/>
<text x="368.00" y="220.50" font-size="15" text-anchor="start" fill="#000" font-weight="bold" >e.</text>
<line x1="368.60" y1="224.80" x2="368.60" y2="380.30" stroke="#7a7a7a" stroke-width="1" />
<line x1="368.10" y1="380.30" x2="508.60" y2="380.30" stroke="#7a7a7a" stroke-width="1" />
<line x1="364.20" y1="232.20" x2="368.60" y2="232.20" stroke="#7a7a7a" stroke-width="1" />
<text x="363.20" y="235.55" font-size="9.4" text-anchor="end" fill="#555" font-weight="normal" >60</text>
<line x1="364.20" y1="255.70" x2="368.60" y2="255.70" stroke="#7a7a7a" stroke-width="1" />
<text x="363.20" y="259.05" font-size="9.4" text-anchor="end" fill="#555" font-weight="normal" >50</text>
<line x1="364.20" y1="279.20" x2="368.60" y2="279.20" stroke="#7a7a7a" stroke-width="1" />
<text x="363.20" y="282.55" font-size="9.4" text-anchor="end" fill="#555" font-weight="normal" >40</text>
<line x1="364.20" y1="302.70" x2="368.60" y2="302.70" stroke="#7a7a7a" stroke-width="1" />
<text x="363.20" y="306.05" font-size="9.4" text-anchor="end" fill="#555" font-weight="normal" >30</text>
<line x1="364.20" y1="326.20" x2="368.60" y2="326.20" stroke="#7a7a7a" stroke-width="1" />
<text x="363.20" y="329.55" font-size="9.4" text-anchor="end" fill="#555" font-weight="normal" >20</text>
<line x1="364.20" y1="349.70" x2="368.60" y2="349.70" stroke="#7a7a7a" stroke-width="1" />
<text x="363.20" y="353.05" font-size="9.4" text-anchor="end" fill="#555" font-weight="normal" >10</text>
<line x1="364.20" y1="373.20" x2="368.60" y2="373.20" stroke="#7a7a7a" stroke-width="1" />
<text x="363.20" y="376.55" font-size="9.4" text-anchor="end" fill="#555" font-weight="normal" >0</text>
<line x1="394.50" y1="380.30" x2="394.50" y2="384.30" stroke="#7a7a7a" stroke-width="0.8" />
<text x="394.50" y="392.10" font-size="9.1" text-anchor="middle" fill="#555" font-weight="normal" >HIV−</text>
<line x1="438.40" y1="380.30" x2="438.40" y2="384.30" stroke="#7a7a7a" stroke-width="0.8" />
<text x="438.40" y="392.10" font-size="9.1" text-anchor="middle" fill="#555" font-weight="normal" >PLHIV</text>
<text x="438.40" y="401.80" font-size="9.1" text-anchor="middle" fill="#555" font-weight="normal" >ART&lt;3m</text>
<line x1="482.30" y1="380.30" x2="482.30" y2="384.30" stroke="#7a7a7a" stroke-width="0.8" />
<text x="482.30" y="392.10" font-size="9.1" text-anchor="middle" fill="#555" font-weight="normal" >PLHIV</text>
<text x="482.30" y="401.80" font-size="9.1" text-anchor="middle" fill="#555" font-weight="normal" >ART&gt;1yr</text>
<text x="0" y="0" font-size="9" text-anchor="middle" fill="#222" transform="translate(349.20,303.00) rotate(-90)">Frequency of CD4<tspan font-size="6" dy="-3.5">+</tspan><tspan dy="3.5"> T cells (%)</tspan></text>
<clipPath id="cp368"><rect x="0" y="224.00" width="685" height="385.20"/></clipPath>
<g clip-path="url(#cp368)">
<path d="M438.40,236.80 V235.20 H482.60 V236.80" fill="none" stroke="#a0a0a0" stroke-width="0.9"/>
<text x="460.50" y="233.70" font-size="8.4" text-anchor="middle" fill="#222" font-weight="normal" >p = 0.0400</text>
<path d="M394.50,249.20 V247.60 H482.60 V249.20" fill="none" stroke="#a0a0a0" stroke-width="0.9"/>
<text x="438.55" y="246.10" font-size="8.4" text-anchor="middle" fill="#222" font-weight="normal" >p = 0.9630</text>
<path d="M394.50,261.90 V260.30 H438.40 V261.90" fill="none" stroke="#a0a0a0" stroke-width="0.9"/>
<text x="416.45" y="258.80" font-size="8.4" text-anchor="middle" fill="#222" font-weight="normal" >p = 0.0380</text>
</g>
<line x1="394.65" y1="275.20" x2="394.65" y2="315.70" stroke="#cfcfcf" stroke-width="0.9" />
<line x1="394.65" y1="344.50" x2="394.65" y2="358.60" stroke="#cfcfcf" stroke-width="0.9" />
<rect x="383.60" y="315.70" width="22.10" height="28.80" fill="none" stroke="#cfcfcf" stroke-width="0.9"/>
<line x1="383.60" y1="333.60" x2="405.70" y2="333.60" stroke="#cfcfcf" stroke-width="0.9" />
<line x1="391.65" y1="333.60" x2="397.65" y2="333.60" stroke="#222" stroke-width="1.05" />
<line x1="438.35" y1="307.50" x2="438.35" y2="333.00" stroke="#c06a6a" stroke-width="0.9" />
<line x1="438.35" y1="363.60" x2="438.35" y2="373.00" stroke="#c06a6a" stroke-width="0.9" />
<rect x="427.20" y="333.00" width="22.30" height="30.60" fill="none" stroke="#c06a6a" stroke-width="0.9"/>
<line x1="427.20" y1="343.50" x2="449.50" y2="343.50" stroke="#c06a6a" stroke-width="0.9" />
<line x1="435.35" y1="343.50" x2="441.35" y2="343.50" stroke="#222" stroke-width="1.05" />
<line x1="482.35" y1="266.20" x2="482.35" y2="305.80" stroke="#6e9bc8" stroke-width="0.9" />
<line x1="482.35" y1="347.20" x2="482.35" y2="365.70" stroke="#6e9bc8" stroke-width="0.9" />
<rect x="471.20" y="305.80" width="22.30" height="41.40" fill="none" stroke="#6e9bc8" stroke-width="0.9"/>
<line x1="471.20" y1="330.90" x2="493.50" y2="330.90" stroke="#6e9bc8" stroke-width="0.9" />
<line x1="479.35" y1="330.90" x2="485.35" y2="330.90" stroke="#222" stroke-width="1.05" />
<circle cx="394.50" cy="269.00" r="2.5" fill="#b0b0b0"/>
<circle cx="400.30" cy="275.00" r="2.5" fill="#b0b0b0"/>
<circle cx="400.90" cy="289.70" r="2.5" fill="#b0b0b0"/>
<circle cx="402.10" cy="301.70" r="2.5" fill="#b0b0b0"/>
<circle cx="403.10" cy="315.70" r="2.5" fill="#b0b0b0"/>
<circle cx="398.30" cy="321.60" r="2.5" fill="#b0b0b0"/>
<circle cx="395.30" cy="327.80" r="2.5" fill="#b0b0b0"/>
<circle cx="396.00" cy="329.00" r="2.5" fill="#b0b0b0"/>
<circle cx="390.00" cy="332.90" r="2.5" fill="#b0b0b0"/>
<circle cx="386.70" cy="342.80" r="2.5" fill="#b0b0b0"/>
<circle cx="387.10" cy="344.10" r="2.5" fill="#b0b0b0"/>
<circle cx="397.40" cy="342.40" r="2.5" fill="#b0b0b0"/>
<circle cx="400.50" cy="344.50" r="2.5" fill="#b0b0b0"/>
<circle cx="401.70" cy="346.20" r="2.5" fill="#b0b0b0"/>
<circle cx="396.90" cy="348.30" r="2.5" fill="#b0b0b0"/>
<circle cx="402.60" cy="349.30" r="2.5" fill="#b0b0b0"/>
<circle cx="398.60" cy="358.80" r="2.5" fill="#b0b0b0"/>
<circle cx="439.50" cy="307.30" r="2.5" fill="#9c1010"/>
<circle cx="440.50" cy="318.30" r="2.5" fill="#9c1010"/>
<circle cx="446.20" cy="317.30" r="2.5" fill="#9c1010"/>
<circle cx="440.20" cy="332.90" r="2.5" fill="#9c1010"/>
<circle cx="439.20" cy="334.70" r="2.5" fill="#9c1010"/>
<circle cx="430.50" cy="336.10" r="2.5" fill="#9c1010"/>
<circle cx="442.70" cy="339.90" r="2.5" fill="#9c1010"/>
<circle cx="429.80" cy="347.50" r="2.5" fill="#9c1010"/>
<circle cx="444.40" cy="358.70" r="2.5" fill="#9c1010"/>
<circle cx="437.00" cy="361.90" r="2.5" fill="#9c1010"/>
<circle cx="430.90" cy="364.00" r="2.5" fill="#9c1010"/>
<circle cx="431.80" cy="366.40" r="2.5" fill="#9c1010"/>
<circle cx="433.50" cy="367.20" r="2.5" fill="#9c1010"/>
<circle cx="436.00" cy="373.00" r="2.5" fill="#9c1010"/>
<circle cx="473.80" cy="265.80" r="2.5" fill="#0b4f96"/>
<circle cx="476.70" cy="281.20" r="2.5" fill="#0b4f96"/>
<circle cx="475.40" cy="290.90" r="2.5" fill="#0b4f96"/>
<circle cx="475.80" cy="296.00" r="2.5" fill="#0b4f96"/>
<circle cx="480.70" cy="298.30" r="2.5" fill="#0b4f96"/>
<circle cx="479.30" cy="307.80" r="2.5" fill="#0b4f96"/>
<circle cx="481.30" cy="313.50" r="2.5" fill="#0b4f96"/>
<circle cx="480.70" cy="314.50" r="2.5" fill="#0b4f96"/>
<circle cx="486.60" cy="323.00" r="2.5" fill="#0b4f96"/>
<circle cx="488.60" cy="322.60" r="2.5" fill="#0b4f96"/>
<circle cx="478.30" cy="339.30" r="2.5" fill="#0b4f96"/>
<circle cx="478.30" cy="344.70" r="2.5" fill="#0b4f96"/>
<circle cx="484.60" cy="342.70" r="2.5" fill="#0b4f96"/>
<circle cx="487.60" cy="344.10" r="2.5" fill="#0b4f96"/>
<circle cx="490.90" cy="343.30" r="2.5" fill="#0b4f96"/>
<circle cx="477.30" cy="356.50" r="2.5" fill="#0b4f96"/>
<circle cx="480.10" cy="360.40" r="2.5" fill="#0b4f96"/>
<circle cx="486.60" cy="356.90" r="2.5" fill="#0b4f96"/>
<circle cx="490.90" cy="356.50" r="2.5" fill="#0b4f96"/>
<circle cx="482.10" cy="365.70" r="2.5" fill="#0b4f96"/>
<text x="544.20" y="220.50" font-size="15" text-anchor="start" fill="#000" font-weight="bold" >f.</text>
<line x1="544.20" y1="225.70" x2="544.20" y2="380.30" stroke="#7a7a7a" stroke-width="1" />
<line x1="543.70" y1="380.30" x2="685.00" y2="380.30" stroke="#7a7a7a" stroke-width="1" />
<line x1="539.80" y1="232.40" x2="544.20" y2="232.40" stroke="#7a7a7a" stroke-width="1" />
<text x="538.80" y="235.75" font-size="9.4" text-anchor="end" fill="#555" font-weight="normal" >120</text>
<line x1="539.80" y1="260.40" x2="544.20" y2="260.40" stroke="#7a7a7a" stroke-width="1" />
<text x="538.80" y="263.75" font-size="9.4" text-anchor="end" fill="#555" font-weight="normal" >100</text>
<line x1="539.80" y1="288.40" x2="544.20" y2="288.40" stroke="#7a7a7a" stroke-width="1" />
<text x="538.80" y="291.75" font-size="9.4" text-anchor="end" fill="#555" font-weight="normal" >80</text>
<line x1="539.80" y1="316.40" x2="544.20" y2="316.40" stroke="#7a7a7a" stroke-width="1" />
<text x="538.80" y="319.75" font-size="9.4" text-anchor="end" fill="#555" font-weight="normal" >60</text>
<line x1="539.80" y1="344.40" x2="544.20" y2="344.40" stroke="#7a7a7a" stroke-width="1" />
<text x="538.80" y="347.75" font-size="9.4" text-anchor="end" fill="#555" font-weight="normal" >40</text>
<line x1="539.80" y1="372.40" x2="544.20" y2="372.40" stroke="#7a7a7a" stroke-width="1" />
<text x="538.80" y="375.75" font-size="9.4" text-anchor="end" fill="#555" font-weight="normal" >20</text>
<line x1="570.80" y1="380.30" x2="570.80" y2="384.30" stroke="#7a7a7a" stroke-width="0.8" />
<text x="570.80" y="392.10" font-size="9.1" text-anchor="middle" fill="#555" font-weight="normal" >HIV−</text>
<line x1="614.80" y1="380.30" x2="614.80" y2="384.30" stroke="#7a7a7a" stroke-width="0.8" />
<text x="614.80" y="392.10" font-size="9.1" text-anchor="middle" fill="#555" font-weight="normal" >PLHIV</text>
<text x="614.80" y="401.80" font-size="9.1" text-anchor="middle" fill="#555" font-weight="normal" >ART&lt;3m</text>
<line x1="658.60" y1="380.30" x2="658.60" y2="384.30" stroke="#7a7a7a" stroke-width="0.8" />
<text x="658.60" y="392.10" font-size="9.1" text-anchor="middle" fill="#555" font-weight="normal" >PLHIV</text>
<text x="658.60" y="401.80" font-size="9.1" text-anchor="middle" fill="#555" font-weight="normal" >ART&gt;1yr</text>
<text x="0" y="0" font-size="9" text-anchor="middle" fill="#222" transform="translate(519.60,303.00) rotate(-90)">Frequency of CD8<tspan font-size="6" dy="-3.5">+</tspan><tspan dy="3.5"> T cells (%)</tspan></text>
<clipPath id="cp544"><rect x="0" y="224.90" width="685" height="384.30"/></clipPath>
<g clip-path="url(#cp544)">
<path d="M614.80,244.00 V242.40 H658.80 V244.00" fill="none" stroke="#a0a0a0" stroke-width="0.9"/>
<text x="636.80" y="240.90" font-size="8.4" text-anchor="middle" fill="#222" font-weight="normal" >p = 0.6580</text>
<path d="M570.80,255.60 V254.00 H658.80 V255.60" fill="none" stroke="#a0a0a0" stroke-width="0.9"/>
<text x="614.80" y="252.50" font-size="8.4" text-anchor="middle" fill="#222" font-weight="normal" >p = 0.5350</text>
<path d="M570.80,267.00 V265.40 H614.80 V267.00" fill="none" stroke="#a0a0a0" stroke-width="0.9"/>
<text x="592.80" y="263.90" font-size="8.4" text-anchor="middle" fill="#222" font-weight="normal" >p = 0.9050</text>
</g>
<line x1="570.60" y1="286.40" x2="570.60" y2="294.10" stroke="#cfcfcf" stroke-width="0.9" />
<line x1="570.60" y1="323.30" x2="570.60" y2="355.40" stroke="#cfcfcf" stroke-width="0.9" />
<rect x="559.30" y="294.10" width="22.60" height="29.20" fill="none" stroke="#cfcfcf" stroke-width="0.9"/>
<line x1="559.30" y1="305.50" x2="581.90" y2="305.50" stroke="#cfcfcf" stroke-width="0.9" />
<line x1="567.60" y1="305.50" x2="573.60" y2="305.50" stroke="#222" stroke-width="1.05" />
<line x1="614.70" y1="281.50" x2="614.70" y2="293.50" stroke="#c06a6a" stroke-width="0.9" />
<line x1="614.70" y1="324.20" x2="614.70" y2="363.90" stroke="#c06a6a" stroke-width="0.9" />
<rect x="603.50" y="293.50" width="22.40" height="30.70" fill="none" stroke="#c06a6a" stroke-width="0.9"/>
<line x1="603.50" y1="302.50" x2="625.90" y2="302.50" stroke="#c06a6a" stroke-width="0.9" />
<line x1="611.70" y1="302.50" x2="617.70" y2="302.50" stroke="#222" stroke-width="1.05" />
<line x1="658.45" y1="270.00" x2="658.45" y2="288.40" stroke="#6e9bc8" stroke-width="0.9" />
<line x1="658.45" y1="319.50" x2="658.45" y2="340.70" stroke="#6e9bc8" stroke-width="0.9" />
<rect x="647.20" y="288.40" width="22.50" height="31.10" fill="none" stroke="#6e9bc8" stroke-width="0.9"/>
<line x1="647.20" y1="306.20" x2="669.70" y2="306.20" stroke="#6e9bc8" stroke-width="0.9" />
<line x1="655.45" y1="306.20" x2="661.45" y2="306.20" stroke="#222" stroke-width="1.05" />
<circle cx="568.40" cy="284.00" r="2.5" fill="#b0b0b0"/>
<circle cx="569.00" cy="286.00" r="2.5" fill="#b0b0b0"/>
<circle cx="577.30" cy="282.00" r="2.5" fill="#b0b0b0"/>
<circle cx="575.40" cy="286.80" r="2.5" fill="#b0b0b0"/>
<circle cx="566.80" cy="297.30" r="2.5" fill="#b0b0b0"/>
<circle cx="570.20" cy="299.10" r="2.5" fill="#b0b0b0"/>
<circle cx="572.60" cy="300.40" r="2.5" fill="#b0b0b0"/>
<circle cx="573.70" cy="301.90" r="2.5" fill="#b0b0b0"/>
<circle cx="562.90" cy="300.80" r="2.5" fill="#b0b0b0"/>
<circle cx="569.00" cy="308.60" r="2.5" fill="#b0b0b0"/>
<circle cx="578.80" cy="313.30" r="2.5" fill="#b0b0b0"/>
<circle cx="568.40" cy="316.70" r="2.5" fill="#b0b0b0"/>
<circle cx="568.40" cy="321.10" r="2.5" fill="#b0b0b0"/>
<circle cx="568.20" cy="332.80" r="2.5" fill="#b0b0b0"/>
<circle cx="573.70" cy="333.60" r="2.5" fill="#b0b0b0"/>
<circle cx="579.60" cy="330.70" r="2.5" fill="#b0b0b0"/>
<circle cx="573.00" cy="355.40" r="2.5" fill="#b0b0b0"/>
<circle cx="619.60" cy="281.00" r="2.5" fill="#9c1010"/>
<circle cx="610.90" cy="284.30" r="2.5" fill="#9c1010"/>
<circle cx="619.60" cy="287.70" r="2.5" fill="#9c1010"/>
<circle cx="607.80" cy="293.80" r="2.5" fill="#9c1010"/>
<circle cx="620.00" cy="293.00" r="2.5" fill="#9c1010"/>
<circle cx="623.70" cy="294.60" r="2.5" fill="#9c1010"/>
<circle cx="615.50" cy="296.60" r="2.5" fill="#9c1010"/>
<circle cx="609.80" cy="308.10" r="2.5" fill="#9c1010"/>
<circle cx="607.80" cy="313.50" r="2.5" fill="#9c1010"/>
<circle cx="613.90" cy="319.30" r="2.5" fill="#9c1010"/>
<circle cx="607.30" cy="327.80" r="2.5" fill="#9c1010"/>
<circle cx="612.60" cy="327.80" r="2.5" fill="#9c1010"/>
<circle cx="622.90" cy="326.70" r="2.5" fill="#9c1010"/>
<circle cx="616.70" cy="363.90" r="2.5" fill="#9c1010"/>
<circle cx="667.20" cy="270.00" r="2.5" fill="#0b4f96"/>
<circle cx="655.50" cy="274.30" r="2.5" fill="#0b4f96"/>
<circle cx="661.60" cy="276.60" r="2.5" fill="#0b4f96"/>
<circle cx="656.40" cy="288.40" r="2.5" fill="#0b4f96"/>
<circle cx="659.00" cy="288.10" r="2.5" fill="#0b4f96"/>
<circle cx="661.90" cy="287.80" r="2.5" fill="#0b4f96"/>
<circle cx="663.30" cy="291.60" r="2.5" fill="#0b4f96"/>
<circle cx="663.30" cy="294.10" r="2.5" fill="#0b4f96"/>
<circle cx="651.70" cy="300.50" r="2.5" fill="#0b4f96"/>
<circle cx="660.30" cy="299.70" r="2.5" fill="#0b4f96"/>
<circle cx="665.90" cy="311.90" r="2.5" fill="#0b4f96"/>
<circle cx="665.00" cy="313.60" r="2.5" fill="#0b4f96"/>
<circle cx="657.20" cy="317.90" r="2.5" fill="#0b4f96"/>
<circle cx="659.00" cy="318.80" r="2.5" fill="#0b4f96"/>
<circle cx="664.70" cy="319.50" r="2.5" fill="#0b4f96"/>
<circle cx="666.70" cy="320.30" r="2.5" fill="#0b4f96"/>
<circle cx="651.70" cy="321.20" r="2.5" fill="#0b4f96"/>
<circle cx="652.90" cy="329.00" r="2.5" fill="#0b4f96"/>
<circle cx="655.20" cy="337.80" r="2.5" fill="#0b4f96"/>
<circle cx="651.70" cy="340.70" r="2.5" fill="#0b4f96"/>
<text x="27.00" y="427.30" font-size="15" text-anchor="start" fill="#000" font-weight="bold" >g.</text>
<line x1="26.80" y1="432.30" x2="26.80" y2="586.80" stroke="#c8c8c8" stroke-width="1" />
<line x1="26.30" y1="586.80" x2="175.70" y2="586.80" stroke="#c8c8c8" stroke-width="1" />
<line x1="22.40" y1="439.00" x2="26.80" y2="439.00" stroke="#c8c8c8" stroke-width="1" />
<text x="21.40" y="442.35" font-size="9.4" text-anchor="end" fill="#555" font-weight="normal" >40</text>
<line x1="22.40" y1="474.20" x2="26.80" y2="474.20" stroke="#c8c8c8" stroke-width="1" />
<text x="21.40" y="477.55" font-size="9.4" text-anchor="end" fill="#555" font-weight="normal" >30</text>
<line x1="22.40" y1="509.40" x2="26.80" y2="509.40" stroke="#c8c8c8" stroke-width="1" />
<text x="21.40" y="512.75" font-size="9.4" text-anchor="end" fill="#555" font-weight="normal" >20</text>
<line x1="22.40" y1="544.60" x2="26.80" y2="544.60" stroke="#c8c8c8" stroke-width="1" />
<text x="21.40" y="547.95" font-size="9.4" text-anchor="end" fill="#555" font-weight="normal" >10</text>
<line x1="22.40" y1="579.80" x2="26.80" y2="579.80" stroke="#c8c8c8" stroke-width="1" />
<text x="21.40" y="583.15" font-size="9.4" text-anchor="end" fill="#555" font-weight="normal" >0</text>
<line x1="55.10" y1="586.80" x2="55.10" y2="590.80" stroke="#c8c8c8" stroke-width="0.8" />
<text x="55.10" y="598.60" font-size="9.1" text-anchor="middle" fill="#555" font-weight="normal" >HIV−</text>
<line x1="101.20" y1="586.80" x2="101.20" y2="590.80" stroke="#c8c8c8" stroke-width="0.8" />
<text x="101.20" y="598.60" font-size="9.1" text-anchor="middle" fill="#555" font-weight="normal" >PLHIV</text>
<text x="101.20" y="608.30" font-size="9.1" text-anchor="middle" fill="#555" font-weight="normal" >ART&lt;3m</text>
<line x1="147.60" y1="586.80" x2="147.60" y2="590.80" stroke="#c8c8c8" stroke-width="0.8" />
<text x="147.60" y="598.60" font-size="9.1" text-anchor="middle" fill="#555" font-weight="normal" >PLHIV</text>
<text x="147.60" y="608.30" font-size="9.1" text-anchor="middle" fill="#555" font-weight="normal" >ART&gt;1yr</text>
<text x="0" y="0" font-size="9.25" text-anchor="middle" fill="#222" transform="translate(6.60,509.20) rotate(-90)">Frequency of MAIT cells (%)</text>
<clipPath id="cp26"><rect x="0" y="431.50" width="685" height="177.70"/></clipPath>
<g clip-path="url(#cp26)">
<path d="M101.20,443.00 V441.40 H148.40 V443.00" fill="none" stroke="#a0a0a0" stroke-width="0.9"/>
<text x="124.80" y="439.90" font-size="8.4" text-anchor="middle" fill="#222" font-weight="normal" >p = 0.7600</text>
<path d="M54.60,455.70 V454.10 H148.40 V455.70" fill="none" stroke="#a0a0a0" stroke-width="0.9"/>
<text x="101.50" y="452.60" font-size="8.4" text-anchor="middle" fill="#222" font-weight="normal" >p = 0.7870</text>
<path d="M54.60,469.10 V467.50 H101.70 V469.10" fill="none" stroke="#a0a0a0" stroke-width="0.9"/>
<text x="78.15" y="466.00" font-size="8.4" text-anchor="middle" fill="#222" font-weight="normal" >p = 0.9240</text>
</g>
<line x1="54.95" y1="496.10" x2="54.95" y2="538.80" stroke="#cfcfcf" stroke-width="0.9" />
<line x1="54.95" y1="569.30" x2="54.95" y2="578.00" stroke="#cfcfcf" stroke-width="0.9" />
<rect x="43.40" y="538.80" width="23.10" height="30.50" fill="none" stroke="#cfcfcf" stroke-width="0.9"/>
<line x1="43.40" y1="563.10" x2="66.50" y2="563.10" stroke="#cfcfcf" stroke-width="0.9" />
<line x1="51.95" y1="563.10" x2="57.95" y2="563.10" stroke="#222" stroke-width="1.05" />
<line x1="101.35" y1="530.90" x2="101.35" y2="545.30" stroke="#c06a6a" stroke-width="0.9" />
<line x1="101.35" y1="568.80" x2="101.35" y2="579.30" stroke="#c06a6a" stroke-width="0.9" />
<rect x="89.30" y="545.30" width="24.10" height="23.50" fill="none" stroke="#c06a6a" stroke-width="0.9"/>
<line x1="89.30" y1="556.40" x2="113.40" y2="556.40" stroke="#c06a6a" stroke-width="0.9" />
<line x1="98.35" y1="556.40" x2="104.35" y2="556.40" stroke="#222" stroke-width="1.05" />
<line x1="147.65" y1="516.00" x2="147.65" y2="542.80" stroke="#6e9bc8" stroke-width="0.9" />
<line x1="147.65" y1="570.60" x2="147.65" y2="577.50" stroke="#6e9bc8" stroke-width="0.9" />
<rect x="136.00" y="542.80" width="23.30" height="27.80" fill="none" stroke="#6e9bc8" stroke-width="0.9"/>
<line x1="136.00" y1="559.40" x2="159.30" y2="559.40" stroke="#6e9bc8" stroke-width="0.9" />
<line x1="144.65" y1="559.40" x2="150.65" y2="559.40" stroke="#222" stroke-width="1.05" />
<circle cx="53.30" cy="496.10" r="2.5" fill="#b0b0b0"/>
<circle cx="60.30" cy="531.40" r="2.5" fill="#b0b0b0"/>
<circle cx="57.60" cy="538.80" r="2.5" fill="#b0b0b0"/>
<circle cx="63.30" cy="538.30" r="2.5" fill="#b0b0b0"/>
<circle cx="67.00" cy="538.80" r="2.5" fill="#b0b0b0"/>
<circle cx="63.00" cy="542.20" r="2.5" fill="#b0b0b0"/>
<circle cx="45.90" cy="551.50" r="2.5" fill="#b0b0b0"/>
<circle cx="43.90" cy="563.10" r="2.5" fill="#b0b0b0"/>
<circle cx="65.00" cy="562.40" r="2.5" fill="#b0b0b0"/>
<circle cx="59.60" cy="565.10" r="2.5" fill="#b0b0b0"/>
<circle cx="50.90" cy="567.60" r="2.5" fill="#b0b0b0"/>
<circle cx="68.20" cy="568.10" r="2.5" fill="#b0b0b0"/>
<circle cx="45.40" cy="570.60" r="2.5" fill="#b0b0b0"/>
<circle cx="54.10" cy="571.10" r="2.5" fill="#b0b0b0"/>
<circle cx="55.80" cy="575.00" r="2.5" fill="#b0b0b0"/>
<circle cx="65.80" cy="578.30" r="2.5" fill="#b0b0b0"/>
<circle cx="90.10" cy="472.70" r="2.5" fill="#9c1010"/>
<circle cx="111.70" cy="530.40" r="2.5" fill="#9c1010"/>
<circle cx="91.30" cy="542.80" r="2.5" fill="#9c1010"/>
<circle cx="106.20" cy="545.30" r="2.5" fill="#9c1010"/>
<circle cx="108.40" cy="545.30" r="2.5" fill="#9c1010"/>
<circle cx="91.30" cy="556.20" r="2.5" fill="#9c1010"/>
<circle cx="100.00" cy="556.90" r="2.5" fill="#9c1010"/>
<circle cx="113.40" cy="554.40" r="2.5" fill="#9c1010"/>
<circle cx="100.00" cy="562.60" r="2.5" fill="#9c1010"/>
<circle cx="95.50" cy="569.80" r="2.5" fill="#9c1010"/>
<circle cx="113.40" cy="568.80" r="2.5" fill="#9c1010"/>
<circle cx="100.50" cy="575.00" r="2.5" fill="#9c1010"/>
<circle cx="155.60" cy="515.50" r="2.5" fill="#0b4f96"/>
<circle cx="159.30" cy="530.40" r="2.5" fill="#0b4f96"/>
<circle cx="139.00" cy="539.60" r="2.5" fill="#0b4f96"/>
<circle cx="145.20" cy="539.60" r="2.5" fill="#0b4f96"/>
<circle cx="151.90" cy="542.00" r="2.5" fill="#0b4f96"/>
<circle cx="149.60" cy="542.80" r="2.5" fill="#0b4f96"/>
<circle cx="159.60" cy="544.50" r="2.5" fill="#0b4f96"/>
<circle cx="145.70" cy="550.00" r="2.5" fill="#0b4f96"/>
<circle cx="150.10" cy="554.40" r="2.5" fill="#0b4f96"/>
<circle cx="156.80" cy="557.70" r="2.5" fill="#0b4f96"/>
<circle cx="155.10" cy="560.60" r="2.5" fill="#0b4f96"/>
<circle cx="161.30" cy="562.60" r="2.5" fill="#0b4f96"/>
<circle cx="153.80" cy="565.10" r="2.5" fill="#0b4f96"/>
<circle cx="142.20" cy="565.60" r="2.5" fill="#0b4f96"/>
<circle cx="146.40" cy="569.80" r="2.5" fill="#0b4f96"/>
<circle cx="150.10" cy="571.30" r="2.5" fill="#0b4f96"/>
<circle cx="154.30" cy="572.30" r="2.5" fill="#0b4f96"/>
<circle cx="161.80" cy="576.30" r="2.5" fill="#0b4f96"/>
<circle cx="156.80" cy="578.50" r="2.5" fill="#0b4f96"/>
<text x="206.90" y="426.80" font-size="15" text-anchor="start" fill="#000" font-weight="bold" >h.</text>
<line x1="206.70" y1="432.30" x2="206.70" y2="586.70" stroke="#7a7a7a" stroke-width="1" />
<line x1="206.20" y1="586.70" x2="355.60" y2="586.70" stroke="#9a9a9a" stroke-width="1" />
<line x1="202.30" y1="456.73" x2="206.70" y2="456.73" stroke="#7a7a7a" stroke-width="1" />
<text x="201.30" y="460.08" font-size="9.4" text-anchor="end" fill="#555" font-weight="normal" >75</text>
<line x1="202.30" y1="498.15" x2="206.70" y2="498.15" stroke="#7a7a7a" stroke-width="1" />
<text x="201.30" y="501.50" font-size="9.4" text-anchor="end" fill="#555" font-weight="normal" >50</text>
<line x1="202.30" y1="539.58" x2="206.70" y2="539.58" stroke="#7a7a7a" stroke-width="1" />
<text x="201.30" y="542.93" font-size="9.4" text-anchor="end" fill="#555" font-weight="normal" >25</text>
<line x1="202.30" y1="581.00" x2="206.70" y2="581.00" stroke="#7a7a7a" stroke-width="1" />
<text x="201.30" y="584.35" font-size="9.4" text-anchor="end" fill="#555" font-weight="normal" >0</text>
<line x1="234.50" y1="586.70" x2="234.50" y2="590.70" stroke="#9a9a9a" stroke-width="0.8" />
<text x="234.50" y="598.50" font-size="9.1" text-anchor="middle" fill="#555" font-weight="normal" >HIV−</text>
<line x1="281.10" y1="586.70" x2="281.10" y2="590.70" stroke="#9a9a9a" stroke-width="0.8" />
<text x="281.10" y="598.50" font-size="9.1" text-anchor="middle" fill="#555" font-weight="normal" >PLHIV</text>
<text x="281.10" y="608.20" font-size="9.1" text-anchor="middle" fill="#555" font-weight="normal" >ART&lt;3m</text>
<line x1="327.50" y1="586.70" x2="327.50" y2="590.70" stroke="#9a9a9a" stroke-width="0.8" />
<text x="327.50" y="598.50" font-size="9.1" text-anchor="middle" fill="#555" font-weight="normal" >PLHIV</text>
<text x="327.50" y="608.20" font-size="9.1" text-anchor="middle" fill="#555" font-weight="normal" >ART&gt;1yr</text>
<text x="0" y="0" font-size="8.9" text-anchor="middle" fill="#222" transform="translate(185.50,509.40) rotate(-90)">Frequency of TCR γ δ <tspan font-size="6" dy="-3.5">+</tspan><tspan dy="3.5"> T cells</tspan></text>
<clipPath id="cp206"><rect x="0" y="431.50" width="685" height="177.70"/></clipPath>
<g clip-path="url(#cp206)">
<path d="M281.10,440.10 V438.50 H327.50 V440.10" fill="none" stroke="#a0a0a0" stroke-width="0.9"/>
<text x="304.30" y="437.00" font-size="8.4" text-anchor="middle" fill="#222" font-weight="normal" >p = 0.5910</text>
<path d="M234.50,453.70 V452.10 H327.50 V453.70" fill="none" stroke="#a0a0a0" stroke-width="0.9"/>
<text x="281.00" y="450.60" font-size="8.4" text-anchor="middle" fill="#222" font-weight="normal" >p = 0.4470</text>
<path d="M234.50,466.90 V465.30 H281.60 V466.90" fill="none" stroke="#a0a0a0" stroke-width="0.9"/>
<text x="258.05" y="463.80" font-size="8.4" text-anchor="middle" fill="#222" font-weight="normal" >p = 0.6690</text>
</g>
<line x1="234.50" y1="550.20" x2="234.50" y2="560.10" stroke="#cfcfcf" stroke-width="0.9" />
<line x1="234.50" y1="573.80" x2="234.50" y2="580.50" stroke="#cfcfcf" stroke-width="0.9" />
<rect x="222.60" y="560.10" width="23.80" height="13.70" fill="none" stroke="#cfcfcf" stroke-width="0.9"/>
<line x1="222.60" y1="572.30" x2="246.40" y2="572.30" stroke="#cfcfcf" stroke-width="0.9" />
<line x1="231.50" y1="572.30" x2="237.50" y2="572.30" stroke="#222" stroke-width="1.05" />
<line x1="281.00" y1="553.00" x2="281.00" y2="561.40" stroke="#c06a6a" stroke-width="0.9" />
<line x1="281.00" y1="573.10" x2="281.00" y2="576.00" stroke="#c06a6a" stroke-width="0.9" />
<rect x="269.20" y="561.40" width="23.60" height="11.70" fill="none" stroke="#c06a6a" stroke-width="0.9"/>
<line x1="269.20" y1="568.50" x2="292.80" y2="568.50" stroke="#c06a6a" stroke-width="0.9" />
<line x1="278.00" y1="568.50" x2="284.00" y2="568.50" stroke="#222" stroke-width="1.05" />
<line x1="327.80" y1="544.20" x2="327.80" y2="562.20" stroke="#6e9bc8" stroke-width="0.9" />
<line x1="327.80" y1="574.00" x2="327.80" y2="577.00" stroke="#6e9bc8" stroke-width="0.9" />
<rect x="316.00" y="562.20" width="23.60" height="11.80" fill="none" stroke="#6e9bc8" stroke-width="0.9"/>
<line x1="316.00" y1="570.20" x2="339.60" y2="570.20" stroke="#6e9bc8" stroke-width="0.9" />
<line x1="324.80" y1="570.20" x2="330.80" y2="570.20" stroke="#222" stroke-width="1.05" />
<circle cx="243.90" cy="470.70" r="2.5" fill="#b0b0b0"/>
<circle cx="221.30" cy="504.80" r="2.5" fill="#b0b0b0"/>
<circle cx="240.70" cy="550.00" r="2.5" fill="#b0b0b0"/>
<circle cx="239.40" cy="555.70" r="2.5" fill="#b0b0b0"/>
<circle cx="227.00" cy="559.40" r="2.5" fill="#b0b0b0"/>
<circle cx="222.10" cy="561.90" r="2.5" fill="#b0b0b0"/>
<circle cx="223.30" cy="572.30" r="2.5" fill="#b0b0b0"/>
<circle cx="227.00" cy="571.80" r="2.5" fill="#b0b0b0"/>
<circle cx="230.80" cy="571.80" r="2.5" fill="#b0b0b0"/>
<circle cx="234.50" cy="573.00" r="2.5" fill="#b0b0b0"/>
<circle cx="245.60" cy="571.80" r="2.5" fill="#b0b0b0"/>
<circle cx="240.70" cy="573.80" r="2.5" fill="#b0b0b0"/>
<circle cx="221.60" cy="577.50" r="2.5" fill="#b0b0b0"/>
<circle cx="233.20" cy="578.00" r="2.5" fill="#b0b0b0"/>
<circle cx="238.70" cy="580.00" r="2.5" fill="#b0b0b0"/>
<circle cx="288.60" cy="536.60" r="2.5" fill="#9c1010"/>
<circle cx="282.10" cy="539.60" r="2.5" fill="#9c1010"/>
<circle cx="281.10" cy="552.70" r="2.5" fill="#9c1010"/>
<circle cx="278.60" cy="560.60" r="2.5" fill="#9c1010"/>
<circle cx="274.20" cy="563.90" r="2.5" fill="#9c1010"/>
<circle cx="268.00" cy="567.80" r="2.5" fill="#9c1010"/>
<circle cx="278.20" cy="568.30" r="2.5" fill="#9c1010"/>
<circle cx="282.00" cy="566.50" r="2.5" fill="#9c1010"/>
<circle cx="272.40" cy="573.10" r="2.5" fill="#9c1010"/>
<circle cx="269.20" cy="574.60" r="2.5" fill="#9c1010"/>
<circle cx="292.80" cy="569.80" r="2.5" fill="#9c1010"/>
<circle cx="290.50" cy="572.80" r="2.5" fill="#9c1010"/>
<circle cx="291.60" cy="574.80" r="2.5" fill="#9c1010"/>
<circle cx="294.40" cy="576.40" r="2.5" fill="#9c1010"/>
<circle cx="321.60" cy="538.10" r="2.5" fill="#0b4f96"/>
<circle cx="332.10" cy="544.20" r="2.5" fill="#0b4f96"/>
<circle cx="318.30" cy="559.10" r="2.5" fill="#0b4f96"/>
<circle cx="321.20" cy="558.30" r="2.5" fill="#0b4f96"/>
<circle cx="323.20" cy="559.60" r="2.5" fill="#0b4f96"/>
<circle cx="324.90" cy="563.20" r="2.5" fill="#0b4f96"/>
<circle cx="328.00" cy="562.60" r="2.5" fill="#0b4f96"/>
<circle cx="317.30" cy="566.10" r="2.5" fill="#0b4f96"/>
<circle cx="318.60" cy="569.80" r="2.5" fill="#0b4f96"/>
<circle cx="318.30" cy="573.10" r="2.5" fill="#0b4f96"/>
<circle cx="320.60" cy="573.70" r="2.5" fill="#0b4f96"/>
<circle cx="322.50" cy="575.00" r="2.5" fill="#0b4f96"/>
<circle cx="326.50" cy="577.40" r="2.5" fill="#0b4f96"/>
<circle cx="317.00" cy="568.50" r="2.5" fill="#0b4f96"/>
<circle cx="319.50" cy="571.50" r="2.5" fill="#0b4f96"/>
<circle cx="321.50" cy="572.20" r="2.5" fill="#0b4f96"/>
<circle cx="324.20" cy="574.50" r="2.5" fill="#0b4f96"/>
<circle cx="319.80" cy="575.50" r="2.5" fill="#0b4f96"/>
<circle cx="317.50" cy="574.00" r="2.5" fill="#0b4f96"/>
<circle cx="339.60" cy="569.10" r="2.5" fill="#0b4f96"/>
<circle cx="337.60" cy="571.80" r="2.5" fill="#0b4f96"/>
<circle cx="339.60" cy="574.80" r="2.5" fill="#0b4f96"/>
<circle cx="337.60" cy="573.70" r="2.5" fill="#0b4f96"/>
<text x="385.00" y="426.80" font-size="15" text-anchor="start" fill="#000" font-weight="bold" >i.</text>
<line x1="385.30" y1="431.80" x2="385.30" y2="586.50" stroke="#7a7a7a" stroke-width="1" />
<line x1="384.80" y1="586.50" x2="534.00" y2="586.50" stroke="#7a7a7a" stroke-width="1" />
<line x1="380.90" y1="474.60" x2="385.30" y2="474.60" stroke="#7a7a7a" stroke-width="1" />
<text x="379.90" y="477.95" font-size="9.4" text-anchor="end" fill="#555" font-weight="normal" >40</text>
<line x1="380.90" y1="527.00" x2="385.30" y2="527.00" stroke="#7a7a7a" stroke-width="1" />
<text x="379.90" y="530.35" font-size="9.4" text-anchor="end" fill="#555" font-weight="normal" >20</text>
<line x1="380.90" y1="579.40" x2="385.30" y2="579.40" stroke="#7a7a7a" stroke-width="1" />
<text x="379.90" y="582.75" font-size="9.4" text-anchor="end" fill="#555" font-weight="normal" >0</text>
<line x1="413.60" y1="586.50" x2="413.60" y2="590.50" stroke="#7a7a7a" stroke-width="0.8" />
<text x="413.60" y="598.30" font-size="9.1" text-anchor="middle" fill="#555" font-weight="normal" >HIV−</text>
<line x1="460.30" y1="586.50" x2="460.30" y2="590.50" stroke="#7a7a7a" stroke-width="0.8" />
<text x="460.30" y="598.30" font-size="9.1" text-anchor="middle" fill="#555" font-weight="normal" >PLHIV</text>
<text x="460.30" y="608.00" font-size="9.1" text-anchor="middle" fill="#555" font-weight="normal" >ART&lt;3m</text>
<line x1="506.30" y1="586.50" x2="506.30" y2="590.50" stroke="#7a7a7a" stroke-width="0.8" />
<text x="506.30" y="598.30" font-size="9.1" text-anchor="middle" fill="#555" font-weight="normal" >PLHIV</text>
<text x="506.30" y="608.00" font-size="9.1" text-anchor="middle" fill="#555" font-weight="normal" >ART&gt;1yr</text>
<text x="0" y="0" font-size="9.2" text-anchor="middle" fill="#222" transform="translate(363.60,509.50) rotate(-90)">Frequency of NK T cells (%)</text>
<clipPath id="cp385"><rect x="0" y="431.00" width="685" height="178.20"/></clipPath>
<g clip-path="url(#cp385)">
<path d="M459.50,440.10 V438.50 H506.30 V440.10" fill="none" stroke="#a0a0a0" stroke-width="0.9"/>
<text x="482.90" y="437.00" font-size="8.4" text-anchor="middle" fill="#222" font-weight="normal" >p = 0.0160</text>
<path d="M413.10,453.70 V452.10 H506.30 V453.70" fill="none" stroke="#a0a0a0" stroke-width="0.9"/>
<text x="459.70" y="450.60" font-size="8.4" text-anchor="middle" fill="#222" font-weight="normal" >p = 0.1940</text>
<path d="M413.10,466.90 V465.30 H459.50 V466.90" fill="none" stroke="#a0a0a0" stroke-width="0.9"/>
<text x="436.30" y="463.80" font-size="8.4" text-anchor="middle" fill="#222" font-weight="normal" >p = 0.2000</text>
</g>
<line x1="413.25" y1="527.40" x2="413.25" y2="551.40" stroke="#cfcfcf" stroke-width="0.9" />
<line x1="413.25" y1="568.50" x2="413.25" y2="577.20" stroke="#cfcfcf" stroke-width="0.9" />
<rect x="401.10" y="551.40" width="24.30" height="17.10" fill="none" stroke="#cfcfcf" stroke-width="0.9"/>
<line x1="401.10" y1="565.70" x2="425.40" y2="565.70" stroke="#cfcfcf" stroke-width="0.9" />
<line x1="410.25" y1="565.70" x2="416.25" y2="565.70" stroke="#222" stroke-width="1.05" />
<line x1="460.00" y1="545.30" x2="460.00" y2="553.40" stroke="#c06a6a" stroke-width="0.9" />
<line x1="460.00" y1="572.20" x2="460.00" y2="579.40" stroke="#c06a6a" stroke-width="0.9" />
<rect x="448.30" y="553.40" width="23.40" height="18.80" fill="none" stroke="#c06a6a" stroke-width="0.9"/>
<line x1="448.30" y1="564.70" x2="471.70" y2="564.70" stroke="#c06a6a" stroke-width="0.9" />
<line x1="457.00" y1="564.70" x2="463.00" y2="564.70" stroke="#222" stroke-width="1.05" />
<line x1="506.40" y1="470.40" x2="506.40" y2="524.50" stroke="#6e9bc8" stroke-width="0.9" />
<line x1="506.40" y1="567.00" x2="506.40" y2="571.00" stroke="#6e9bc8" stroke-width="0.9" />
<rect x="494.30" y="524.50" width="24.20" height="42.50" fill="none" stroke="#6e9bc8" stroke-width="0.9"/>
<line x1="494.30" y1="558.00" x2="518.50" y2="558.00" stroke="#6e9bc8" stroke-width="0.9" />
<line x1="503.40" y1="558.00" x2="509.40" y2="558.00" stroke="#222" stroke-width="1.05" />
<circle cx="400.20" cy="501.60" r="2.5" fill="#b0b0b0"/>
<circle cx="425.10" cy="510.90" r="2.5" fill="#b0b0b0"/>
<circle cx="418.90" cy="526.50" r="2.5" fill="#b0b0b0"/>
<circle cx="413.00" cy="538.30" r="2.5" fill="#b0b0b0"/>
<circle cx="405.80" cy="553.20" r="2.5" fill="#b0b0b0"/>
<circle cx="418.20" cy="553.90" r="2.5" fill="#b0b0b0"/>
<circle cx="421.40" cy="553.90" r="2.5" fill="#b0b0b0"/>
<circle cx="426.70" cy="551.40" r="2.5" fill="#b0b0b0"/>
<circle cx="403.60" cy="567.00" r="2.5" fill="#b0b0b0"/>
<circle cx="407.40" cy="567.80" r="2.5" fill="#b0b0b0"/>
<circle cx="409.80" cy="565.80" r="2.5" fill="#b0b0b0"/>
<circle cx="416.40" cy="564.40" r="2.5" fill="#b0b0b0"/>
<circle cx="421.30" cy="568.30" r="2.5" fill="#b0b0b0"/>
<circle cx="406.40" cy="575.60" r="2.5" fill="#b0b0b0"/>
<circle cx="401.80" cy="577.80" r="2.5" fill="#b0b0b0"/>
<circle cx="426.00" cy="571.60" r="2.5" fill="#b0b0b0"/>
<circle cx="408.90" cy="568.80" r="2.5" fill="#b0b0b0"/>
<circle cx="458.90" cy="542.40" r="2.5" fill="#9c1010"/>
<circle cx="472.60" cy="540.80" r="2.5" fill="#9c1010"/>
<circle cx="463.00" cy="549.40" r="2.5" fill="#9c1010"/>
<circle cx="459.60" cy="552.50" r="2.5" fill="#9c1010"/>
<circle cx="466.80" cy="556.80" r="2.5" fill="#9c1010"/>
<circle cx="452.60" cy="563.30" r="2.5" fill="#9c1010"/>
<circle cx="463.00" cy="564.10" r="2.5" fill="#9c1010"/>
<circle cx="470.60" cy="565.00" r="2.5" fill="#9c1010"/>
<circle cx="466.10" cy="568.70" r="2.5" fill="#9c1010"/>
<circle cx="469.70" cy="568.30" r="2.5" fill="#9c1010"/>
<circle cx="468.80" cy="573.70" r="2.5" fill="#9c1010"/>
<circle cx="449.70" cy="576.40" r="2.5" fill="#9c1010"/>
<circle cx="455.50" cy="576.40" r="2.5" fill="#9c1010"/>
<circle cx="458.50" cy="579.70" r="2.5" fill="#9c1010"/>
<circle cx="499.80" cy="470.40" r="2.5" fill="#0b4f96"/>
<circle cx="501.40" cy="493.20" r="2.5" fill="#0b4f96"/>
<circle cx="507.00" cy="494.10" r="2.5" fill="#0b4f96"/>
<circle cx="507.60" cy="513.40" r="2.5" fill="#0b4f96"/>
<circle cx="500.70" cy="523.70" r="2.5" fill="#0b4f96"/>
<circle cx="507.00" cy="523.70" r="2.5" fill="#0b4f96"/>
<circle cx="500.70" cy="529.60" r="2.5" fill="#0b4f96"/>
<circle cx="500.70" cy="545.40" r="2.5" fill="#0b4f96"/>
<circle cx="498.40" cy="554.70" r="2.5" fill="#0b4f96"/>
<circle cx="493.30" cy="558.00" r="2.5" fill="#0b4f96"/>
<circle cx="492.30" cy="560.40" r="2.5" fill="#0b4f96"/>
<circle cx="506.60" cy="558.00" r="2.5" fill="#0b4f96"/>
<circle cx="511.70" cy="559.40" r="2.5" fill="#0b4f96"/>
<circle cx="503.50" cy="564.10" r="2.5" fill="#0b4f96"/>
<circle cx="502.30" cy="561.80" r="2.5" fill="#0b4f96"/>
<circle cx="496.00" cy="569.60" r="2.5" fill="#0b4f96"/>
<circle cx="496.80" cy="570.70" r="2.5" fill="#0b4f96"/>
<circle cx="504.10" cy="568.60" r="2.5" fill="#0b4f96"/>
<circle cx="515.20" cy="570.70" r="2.5" fill="#0b4f96"/>
</svg></body></html>
